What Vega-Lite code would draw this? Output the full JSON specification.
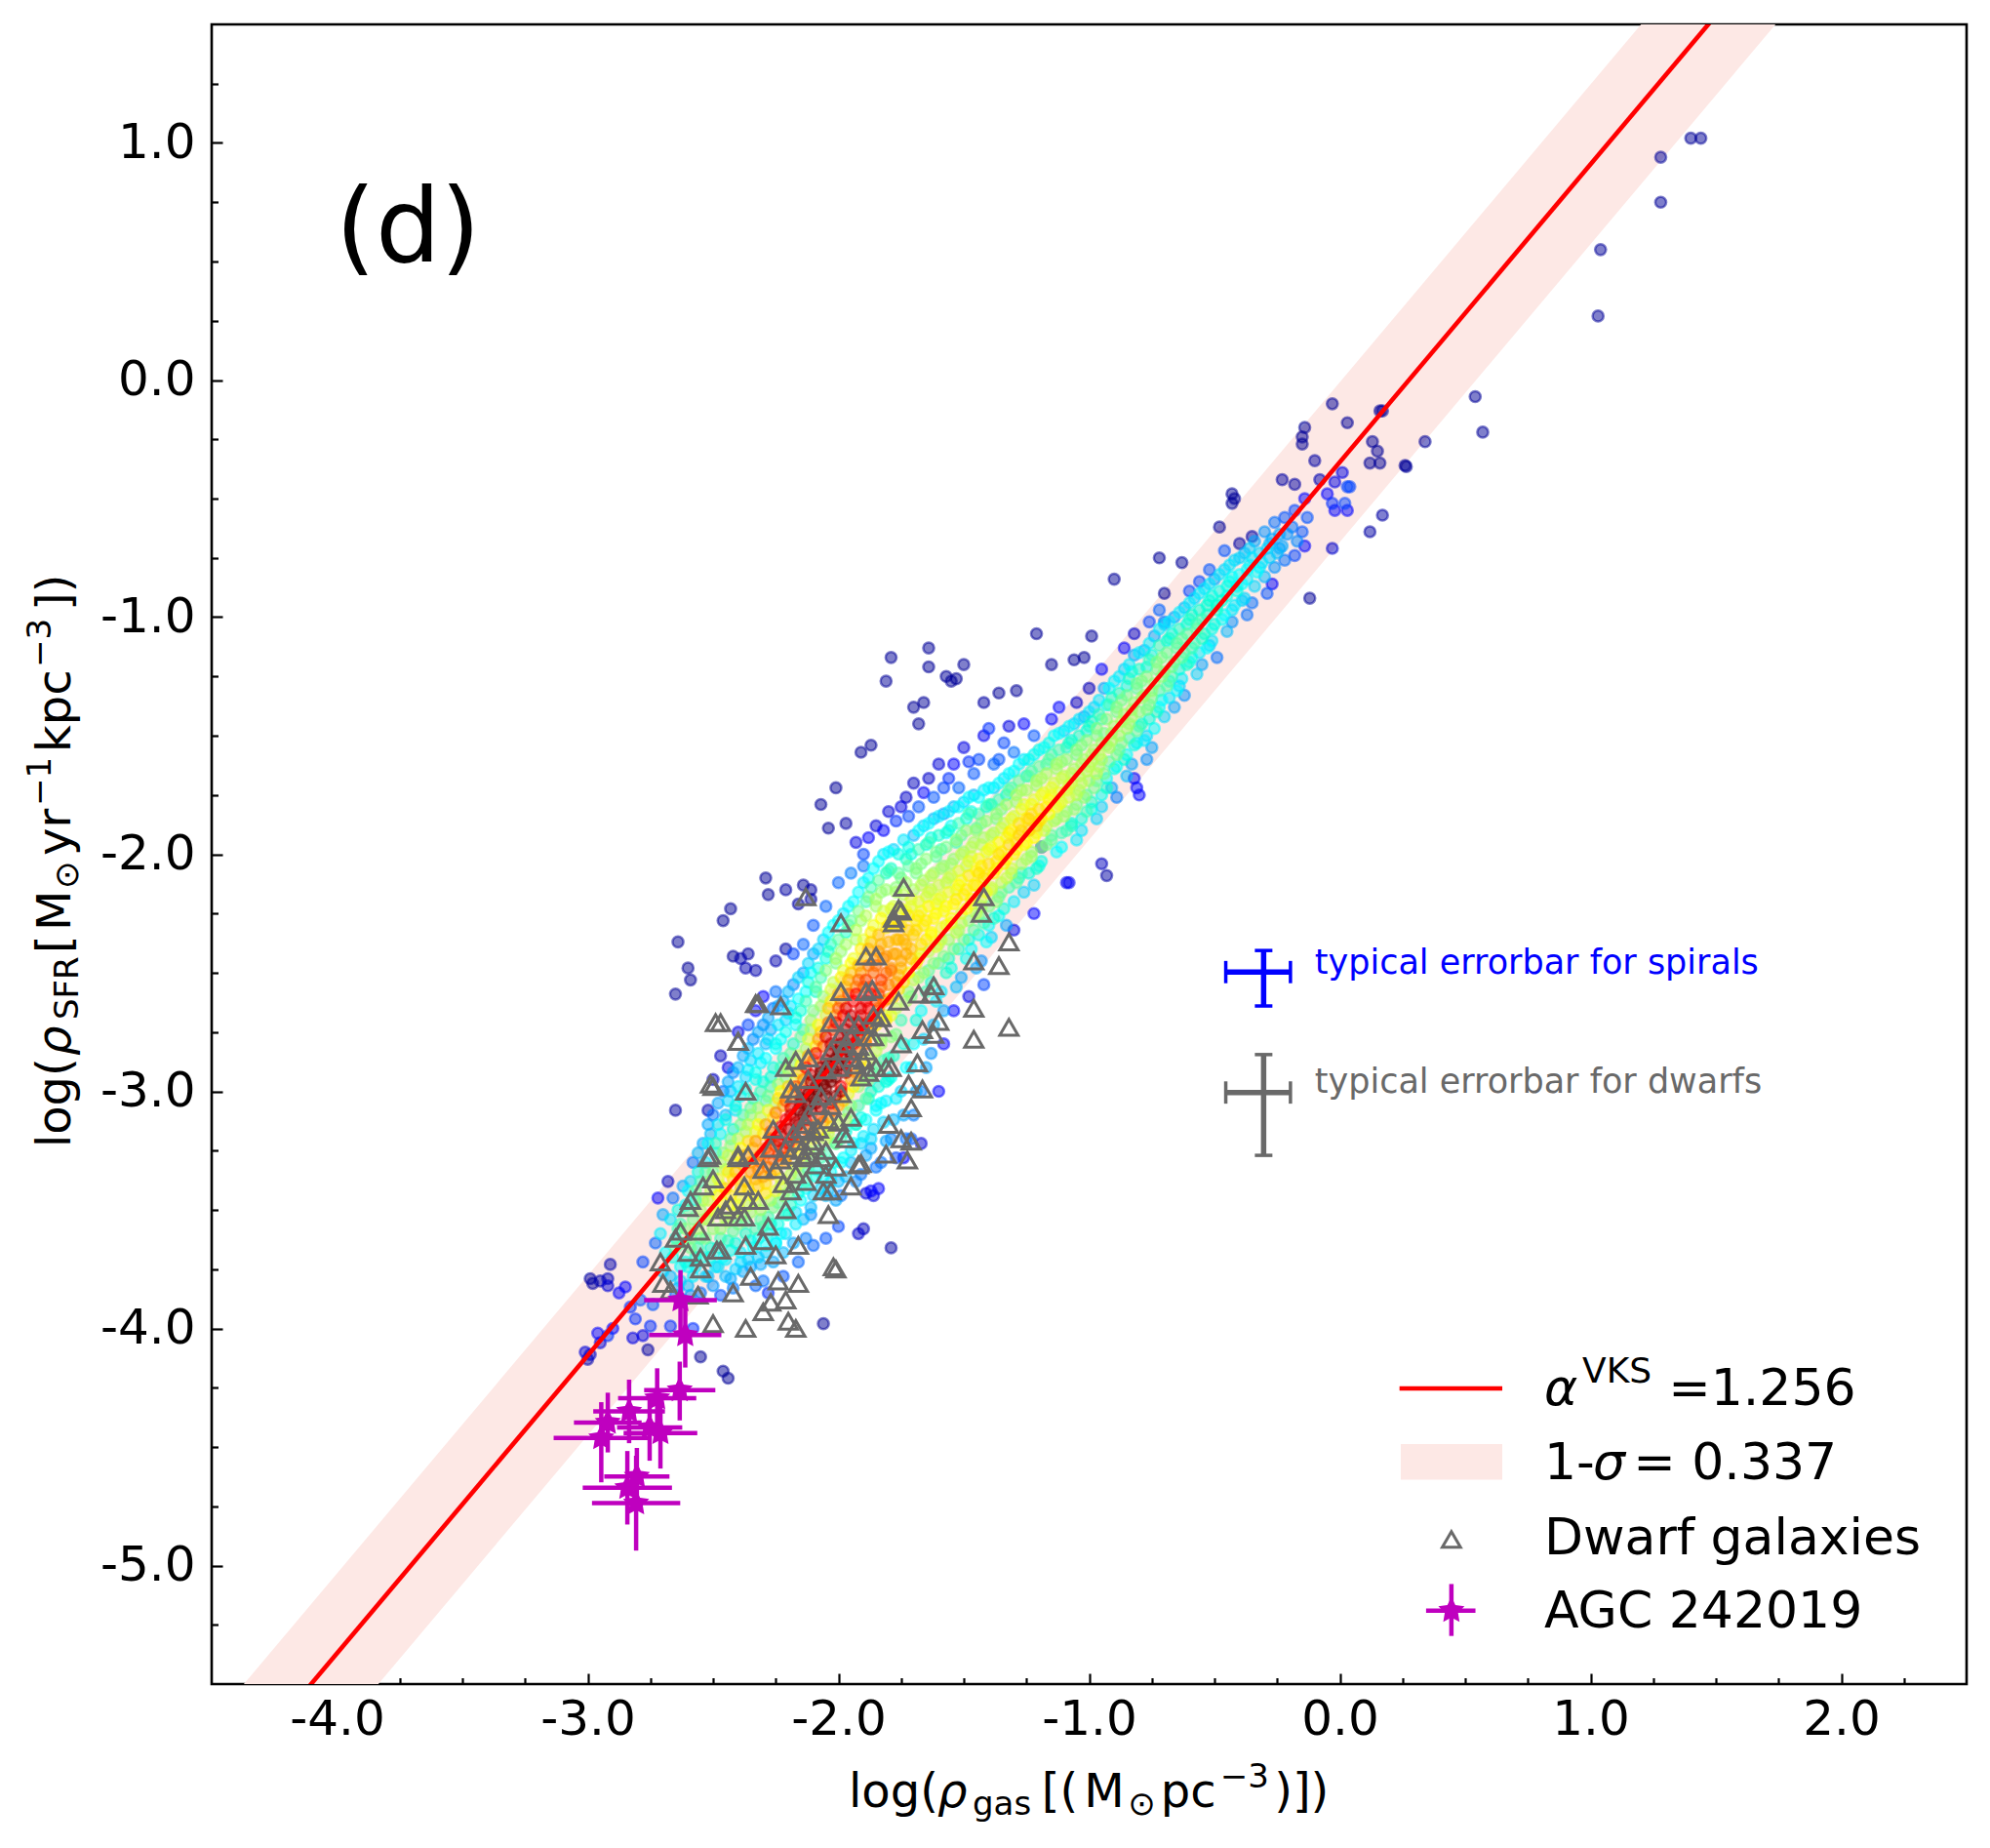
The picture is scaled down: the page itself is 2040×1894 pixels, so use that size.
{"$schema":"https://vega.github.io/schema/vega-lite/v6.json","width":1799,"height":1701,"autosize":{"type":"none"},"padding":{"left":217,"top":25,"right":24,"bottom":168},"background":"white","config":{"view":{"stroke":"#000000","strokeWidth":2.6},"font":"DejaVu Sans","text":{"font":"DejaVu Sans"}},
"datasets":{
"fit":[{"x":-4.5,"y":-5.998,"lo":-6.335,"hi":-5.661},{"x":2.5,"y":2.794,"lo":2.457,"hi":3.131}],
"spirals":[
{"x":-2.7,"y":-3.52,"d":0.2},{"x":-2.71,"y":-3.6,"d":0.28},{"x":-2.69,"y":-3.68,"d":0.3},{"x":-2.7,"y":-3.76,"d":0.25},
{"x":-2.66,"y":-3.45,"d":0.15},{"x":-2.67,"y":-3.54,"d":0.27},{"x":-2.65,"y":-3.62,"d":0.35},{"x":-2.66,"y":-3.7,"d":0.33},{"x":-2.67,"y":-3.78,"d":0.22},{"x":-2.65,"y":-3.86,"d":0.15},
{"x":-2.62,"y":-3.4,"d":0.2},{"x":-2.61,"y":-3.48,"d":0.3},{"x":-2.63,"y":-3.56,"d":0.38},{"x":-2.62,"y":-3.64,"d":0.4},{"x":-2.61,"y":-3.72,"d":0.33},{"x":-2.63,"y":-3.8,"d":0.25},{"x":-2.62,"y":-3.88,"d":0.15},
{"x":-2.58,"y":-3.3,"d":0.15},{"x":-2.59,"y":-3.38,"d":0.25},{"x":-2.57,"y":-3.46,"d":0.35},{"x":-2.58,"y":-3.54,"d":0.42},{"x":-2.59,"y":-3.62,"d":0.42},{"x":-2.57,"y":-3.7,"d":0.35},{"x":-2.58,"y":-3.78,"d":0.28},{"x":-2.59,"y":-3.86,"d":0.18},
{"x":-2.54,"y":-3.22,"d":0.2},{"x":-2.53,"y":-3.3,"d":0.28},{"x":-2.55,"y":-3.38,"d":0.38},{"x":-2.54,"y":-3.46,"d":0.45},{"x":-2.53,"y":-3.54,"d":0.47},{"x":-2.55,"y":-3.62,"d":0.4},{"x":-2.54,"y":-3.7,"d":0.33},{"x":-2.53,"y":-3.78,"d":0.25},{"x":-2.55,"y":-3.85,"d":0.15},
{"x":-2.5,"y":-3.1,"d":0.15},{"x":-2.51,"y":-3.18,"d":0.22},{"x":-2.49,"y":-3.26,"d":0.33},{"x":-2.5,"y":-3.34,"d":0.42},{"x":-2.51,"y":-3.42,"d":0.5},{"x":-2.49,"y":-3.5,"d":0.52},{"x":-2.5,"y":-3.58,"d":0.45},{"x":-2.51,"y":-3.66,"d":0.35},{"x":-2.49,"y":-3.74,"d":0.27},{"x":-2.5,"y":-3.82,"d":0.18},
{"x":-2.46,"y":-3.0,"d":0.15},{"x":-2.45,"y":-3.1,"d":0.22},{"x":-2.47,"y":-3.18,"d":0.3},{"x":-2.46,"y":-3.26,"d":0.42},{"x":-2.45,"y":-3.33,"d":0.5},{"x":-2.47,"y":-3.4,"d":0.55},{"x":-2.46,"y":-3.47,"d":0.57},{"x":-2.45,"y":-3.54,"d":0.5},{"x":-2.47,"y":-3.62,"d":0.38},{"x":-2.46,"y":-3.7,"d":0.3},{"x":-2.45,"y":-3.78,"d":0.22},{"x":-2.47,"y":-3.86,"d":0.13},
{"x":-2.42,"y":-2.92,"d":0.17},{"x":-2.43,"y":-3.0,"d":0.22},{"x":-2.41,"y":-3.08,"d":0.28},{"x":-2.42,"y":-3.16,"d":0.35},{"x":-2.43,"y":-3.23,"d":0.45},{"x":-2.41,"y":-3.3,"d":0.55},{"x":-2.42,"y":-3.37,"d":0.62},{"x":-2.43,"y":-3.44,"d":0.6},{"x":-2.41,"y":-3.51,"d":0.52},{"x":-2.42,"y":-3.59,"d":0.4},{"x":-2.43,"y":-3.67,"d":0.32},{"x":-2.41,"y":-3.75,"d":0.24},{"x":-2.42,"y":-3.83,"d":0.16},
{"x":-2.38,"y":-2.85,"d":0.2},{"x":-2.37,"y":-2.94,"d":0.25},{"x":-2.39,"y":-3.02,"d":0.3},{"x":-2.38,"y":-3.1,"d":0.38},{"x":-2.37,"y":-3.17,"d":0.47},{"x":-2.39,"y":-3.24,"d":0.58},{"x":-2.38,"y":-3.31,"d":0.66},{"x":-2.37,"y":-3.38,"d":0.66},{"x":-2.39,"y":-3.45,"d":0.56},{"x":-2.38,"y":-3.52,"d":0.45},{"x":-2.37,"y":-3.6,"d":0.36},{"x":-2.39,"y":-3.68,"d":0.28},{"x":-2.38,"y":-3.76,"d":0.2},
{"x":-2.34,"y":-2.78,"d":0.17},{"x":-2.35,"y":-2.87,"d":0.25},{"x":-2.33,"y":-2.95,"d":0.32},{"x":-2.34,"y":-3.03,"d":0.36},{"x":-2.35,"y":-3.1,"d":0.45},{"x":-2.33,"y":-3.17,"d":0.55},{"x":-2.34,"y":-3.24,"d":0.68},{"x":-2.35,"y":-3.3,"d":0.72},{"x":-2.33,"y":-3.37,"d":0.68},{"x":-2.34,"y":-3.44,"d":0.58},{"x":-2.35,"y":-3.51,"d":0.46},{"x":-2.33,"y":-3.58,"d":0.38},{"x":-2.34,"y":-3.66,"d":0.3},{"x":-2.35,"y":-3.74,"d":0.2},{"x":-2.33,"y":-3.82,"d":0.14},
{"x":-2.3,"y":-2.72,"d":0.17},{"x":-2.29,"y":-2.8,"d":0.22},{"x":-2.31,"y":-2.88,"d":0.28},{"x":-2.3,"y":-2.96,"d":0.33},{"x":-2.29,"y":-3.04,"d":0.38},{"x":-2.31,"y":-3.11,"d":0.5},{"x":-2.3,"y":-3.18,"d":0.62},{"x":-2.29,"y":-3.24,"d":0.75},{"x":-2.31,"y":-3.3,"d":0.78},{"x":-2.3,"y":-3.36,"d":0.7},{"x":-2.29,"y":-3.43,"d":0.6},{"x":-2.31,"y":-3.5,"d":0.47},{"x":-2.3,"y":-3.57,"d":0.38},{"x":-2.29,"y":-3.65,"d":0.3},{"x":-2.31,"y":-3.73,"d":0.2},{"x":-2.3,"y":-3.8,"d":0.15},
{"x":-2.26,"y":-2.65,"d":0.15},{"x":-2.27,"y":-2.74,"d":0.2},{"x":-2.25,"y":-2.82,"d":0.3},{"x":-2.26,"y":-2.9,"d":0.33},{"x":-2.27,"y":-2.98,"d":0.38},{"x":-2.25,"y":-3.05,"d":0.48},{"x":-2.26,"y":-3.11,"d":0.62},{"x":-2.27,"y":-3.17,"d":0.78},{"x":-2.25,"y":-3.23,"d":0.82},{"x":-2.26,"y":-3.29,"d":0.78},{"x":-2.27,"y":-3.35,"d":0.68},{"x":-2.25,"y":-3.42,"d":0.55},{"x":-2.26,"y":-3.49,"d":0.42},{"x":-2.27,"y":-3.56,"d":0.35},{"x":-2.25,"y":-3.64,"d":0.3},{"x":-2.26,"y":-3.72,"d":0.2},
{"x":-2.22,"y":-2.62,"d":0.2},{"x":-2.21,"y":-2.7,"d":0.25},{"x":-2.23,"y":-2.78,"d":0.3},{"x":-2.22,"y":-2.86,"d":0.37},{"x":-2.21,"y":-2.94,"d":0.42},{"x":-2.23,"y":-3.0,"d":0.58},{"x":-2.22,"y":-3.06,"d":0.7},{"x":-2.21,"y":-3.12,"d":0.85},{"x":-2.23,"y":-3.18,"d":0.88},{"x":-2.22,"y":-3.24,"d":0.84},{"x":-2.21,"y":-3.3,"d":0.72},{"x":-2.23,"y":-3.37,"d":0.55},{"x":-2.22,"y":-3.44,"d":0.45},{"x":-2.21,"y":-3.52,"d":0.36},{"x":-2.23,"y":-3.6,"d":0.3},{"x":-2.22,"y":-3.68,"d":0.22},
{"x":-2.18,"y":-2.55,"d":0.17},{"x":-2.19,"y":-2.64,"d":0.27},{"x":-2.17,"y":-2.72,"d":0.3},{"x":-2.18,"y":-2.8,"d":0.36},{"x":-2.19,"y":-2.88,"d":0.44},{"x":-2.17,"y":-2.95,"d":0.55},{"x":-2.18,"y":-3.01,"d":0.72},{"x":-2.19,"y":-3.07,"d":0.88},{"x":-2.17,"y":-3.13,"d":0.92},{"x":-2.18,"y":-3.19,"d":0.86},{"x":-2.19,"y":-3.25,"d":0.7},{"x":-2.17,"y":-3.32,"d":0.5},{"x":-2.18,"y":-3.4,"d":0.42},{"x":-2.19,"y":-3.48,"d":0.36},{"x":-2.17,"y":-3.56,"d":0.28},{"x":-2.18,"y":-3.64,"d":0.2},
{"x":-2.14,"y":-2.5,"d":0.2},{"x":-2.13,"y":-2.58,"d":0.3},{"x":-2.15,"y":-2.66,"d":0.35},{"x":-2.14,"y":-2.74,"d":0.38},{"x":-2.13,"y":-2.82,"d":0.46},{"x":-2.15,"y":-2.89,"d":0.58},{"x":-2.14,"y":-2.95,"d":0.75},{"x":-2.13,"y":-3.0,"d":0.9},{"x":-2.15,"y":-3.05,"d":0.98},{"x":-2.14,"y":-3.1,"d":0.95},{"x":-2.13,"y":-3.16,"d":0.8},{"x":-2.15,"y":-3.22,"d":0.62},{"x":-2.14,"y":-3.3,"d":0.48},{"x":-2.13,"y":-3.38,"d":0.38},{"x":-2.15,"y":-3.46,"d":0.3},{"x":-2.14,"y":-3.54,"d":0.22},{"x":-2.13,"y":-3.62,"d":0.16},
{"x":-2.1,"y":-2.42,"d":0.2},{"x":-2.11,"y":-2.5,"d":0.3},{"x":-2.09,"y":-2.58,"d":0.36},{"x":-2.1,"y":-2.66,"d":0.42},{"x":-2.11,"y":-2.74,"d":0.48},{"x":-2.09,"y":-2.81,"d":0.6},{"x":-2.1,"y":-2.87,"d":0.78},{"x":-2.11,"y":-2.93,"d":0.9},{"x":-2.09,"y":-2.98,"d":1},{"x":-2.1,"y":-3.03,"d":1},{"x":-2.11,"y":-3.08,"d":0.95},{"x":-2.09,"y":-3.14,"d":0.75},{"x":-2.1,"y":-3.2,"d":0.55},{"x":-2.11,"y":-3.28,"d":0.42},{"x":-2.09,"y":-3.36,"d":0.33},{"x":-2.1,"y":-3.44,"d":0.25},{"x":-2.11,"y":-3.52,"d":0.17},
{"x":-2.06,"y":-2.36,"d":0.25},{"x":-2.05,"y":-2.44,"d":0.33},{"x":-2.07,"y":-2.52,"d":0.38},{"x":-2.06,"y":-2.6,"d":0.45},{"x":-2.05,"y":-2.68,"d":0.52},{"x":-2.07,"y":-2.75,"d":0.65},{"x":-2.06,"y":-2.81,"d":0.8},{"x":-2.05,"y":-2.87,"d":0.92},{"x":-2.07,"y":-2.92,"d":1},{"x":-2.06,"y":-2.97,"d":1},{"x":-2.05,"y":-3.02,"d":1},{"x":-2.07,"y":-3.07,"d":0.9},{"x":-2.06,"y":-3.13,"d":0.7},{"x":-2.05,"y":-3.2,"d":0.5},{"x":-2.07,"y":-3.28,"d":0.38},{"x":-2.06,"y":-3.36,"d":0.3},{"x":-2.05,"y":-3.44,"d":0.22},
{"x":-2.02,"y":-2.3,"d":0.3},{"x":-2.03,"y":-2.38,"d":0.36},{"x":-2.01,"y":-2.46,"d":0.42},{"x":-2.02,"y":-2.54,"d":0.5},{"x":-2.03,"y":-2.62,"d":0.6},{"x":-2.01,"y":-2.68,"d":0.72},{"x":-2.02,"y":-2.74,"d":0.82},{"x":-2.03,"y":-2.8,"d":0.92},{"x":-2.01,"y":-2.86,"d":1},{"x":-2.02,"y":-2.91,"d":1},{"x":-2.03,"y":-2.96,"d":1},{"x":-2.01,"y":-3.02,"d":0.98},{"x":-2.02,"y":-3.08,"d":0.8},{"x":-2.03,"y":-3.15,"d":0.55},{"x":-2.01,"y":-3.22,"d":0.42},{"x":-2.02,"y":-3.3,"d":0.33},{"x":-2.03,"y":-3.38,"d":0.26},{"x":-2.01,"y":-3.46,"d":0.2},
{"x":-1.98,"y":-2.25,"d":0.27},{"x":-1.97,"y":-2.33,"d":0.36},{"x":-1.99,"y":-2.41,"d":0.45},{"x":-1.98,"y":-2.49,"d":0.55},{"x":-1.97,"y":-2.56,"d":0.65},{"x":-1.99,"y":-2.62,"d":0.75},{"x":-1.98,"y":-2.68,"d":0.85},{"x":-1.97,"y":-2.74,"d":0.92},{"x":-1.99,"y":-2.8,"d":0.95},{"x":-1.98,"y":-2.86,"d":0.98},{"x":-1.97,"y":-2.92,"d":0.95},{"x":-1.99,"y":-2.98,"d":0.85},{"x":-1.98,"y":-3.04,"d":0.65},{"x":-1.97,"y":-3.12,"d":0.48},{"x":-1.99,"y":-3.2,"d":0.38},{"x":-1.98,"y":-3.28,"d":0.3},{"x":-1.97,"y":-3.36,"d":0.22},{"x":-1.99,"y":-3.44,"d":0.15},
{"x":-1.94,"y":-2.2,"d":0.3},{"x":-1.95,"y":-2.28,"d":0.4},{"x":-1.93,"y":-2.36,"d":0.48},{"x":-1.94,"y":-2.44,"d":0.56},{"x":-1.95,"y":-2.5,"d":0.65},{"x":-1.93,"y":-2.56,"d":0.75},{"x":-1.94,"y":-2.62,"d":0.85},{"x":-1.95,"y":-2.68,"d":0.9},{"x":-1.93,"y":-2.74,"d":0.92},{"x":-1.94,"y":-2.8,"d":0.9},{"x":-1.95,"y":-2.86,"d":0.86},{"x":-1.93,"y":-2.92,"d":0.75},{"x":-1.94,"y":-2.98,"d":0.6},{"x":-1.95,"y":-3.06,"d":0.45},{"x":-1.93,"y":-3.14,"d":0.36},{"x":-1.94,"y":-3.22,"d":0.3},{"x":-1.95,"y":-3.3,"d":0.22},{"x":-1.93,"y":-3.38,"d":0.17},
{"x":-1.9,"y":-2.12,"d":0.28},{"x":-1.89,"y":-2.2,"d":0.38},{"x":-1.91,"y":-2.28,"d":0.46},{"x":-1.9,"y":-2.36,"d":0.55},{"x":-1.89,"y":-2.43,"d":0.63},{"x":-1.91,"y":-2.5,"d":0.72},{"x":-1.9,"y":-2.56,"d":0.8},{"x":-1.89,"y":-2.62,"d":0.86},{"x":-1.91,"y":-2.68,"d":0.88},{"x":-1.9,"y":-2.74,"d":0.85},{"x":-1.89,"y":-2.8,"d":0.78},{"x":-1.91,"y":-2.87,"d":0.62},{"x":-1.9,"y":-2.95,"d":0.48},{"x":-1.89,"y":-3.03,"d":0.4},{"x":-1.91,"y":-3.11,"d":0.33},{"x":-1.9,"y":-3.19,"d":0.28},{"x":-1.89,"y":-3.27,"d":0.2},{"x":-1.91,"y":-3.35,"d":0.15},
{"x":-1.86,"y":-2.06,"d":0.3},{"x":-1.87,"y":-2.14,"d":0.38},{"x":-1.85,"y":-2.22,"d":0.47},{"x":-1.86,"y":-2.3,"d":0.56},{"x":-1.87,"y":-2.37,"d":0.64},{"x":-1.85,"y":-2.44,"d":0.72},{"x":-1.86,"y":-2.5,"d":0.78},{"x":-1.87,"y":-2.56,"d":0.82},{"x":-1.85,"y":-2.62,"d":0.82},{"x":-1.86,"y":-2.68,"d":0.78},{"x":-1.87,"y":-2.75,"d":0.65},{"x":-1.85,"y":-2.83,"d":0.5},{"x":-1.86,"y":-2.92,"d":0.4},{"x":-1.87,"y":-3.0,"d":0.36},{"x":-1.85,"y":-3.08,"d":0.3},{"x":-1.86,"y":-3.16,"d":0.26},{"x":-1.87,"y":-3.24,"d":0.2},{"x":-1.85,"y":-3.32,"d":0.15},
{"x":-1.82,"y":-2.0,"d":0.27},{"x":-1.81,"y":-2.08,"d":0.36},{"x":-1.83,"y":-2.16,"d":0.44},{"x":-1.82,"y":-2.24,"d":0.53},{"x":-1.81,"y":-2.31,"d":0.6},{"x":-1.83,"y":-2.38,"d":0.68},{"x":-1.82,"y":-2.44,"d":0.74},{"x":-1.81,"y":-2.5,"d":0.78},{"x":-1.83,"y":-2.56,"d":0.78},{"x":-1.82,"y":-2.62,"d":0.72},{"x":-1.81,"y":-2.7,"d":0.6},{"x":-1.83,"y":-2.78,"d":0.45},{"x":-1.82,"y":-2.87,"d":0.38},{"x":-1.81,"y":-2.96,"d":0.34},{"x":-1.83,"y":-3.05,"d":0.3},{"x":-1.82,"y":-3.13,"d":0.25},{"x":-1.81,"y":-3.21,"d":0.2},{"x":-1.83,"y":-3.3,"d":0.15},
{"x":-1.78,"y":-1.98,"d":0.25},{"x":-1.79,"y":-2.06,"d":0.36},{"x":-1.77,"y":-2.14,"d":0.44},{"x":-1.78,"y":-2.22,"d":0.53},{"x":-1.79,"y":-2.29,"d":0.6},{"x":-1.77,"y":-2.36,"d":0.66},{"x":-1.78,"y":-2.42,"d":0.7},{"x":-1.79,"y":-2.48,"d":0.72},{"x":-1.77,"y":-2.54,"d":0.72},{"x":-1.78,"y":-2.6,"d":0.65},{"x":-1.79,"y":-2.68,"d":0.55},{"x":-1.77,"y":-2.76,"d":0.42},{"x":-1.78,"y":-2.85,"d":0.36},{"x":-1.79,"y":-2.94,"d":0.32},{"x":-1.77,"y":-3.03,"d":0.28},{"x":-1.78,"y":-3.12,"d":0.22},{"x":-1.79,"y":-3.2,"d":0.16},{"x":-1.77,"y":-3.28,"d":0.12},
{"x":-1.74,"y":-1.94,"d":0.27},{"x":-1.73,"y":-2.02,"d":0.36},{"x":-1.75,"y":-2.1,"d":0.42},{"x":-1.74,"y":-2.17,"d":0.5},{"x":-1.73,"y":-2.24,"d":0.56},{"x":-1.75,"y":-2.3,"d":0.62},{"x":-1.74,"y":-2.36,"d":0.68},{"x":-1.73,"y":-2.42,"d":0.7},{"x":-1.75,"y":-2.48,"d":0.68},{"x":-1.74,"y":-2.54,"d":0.62},{"x":-1.73,"y":-2.62,"d":0.48},{"x":-1.75,"y":-2.7,"d":0.38},{"x":-1.74,"y":-2.8,"d":0.34},{"x":-1.73,"y":-2.9,"d":0.3},{"x":-1.75,"y":-3.0,"d":0.25},{"x":-1.74,"y":-3.1,"d":0.2},{"x":-1.73,"y":-3.2,"d":0.15},
{"x":-1.7,"y":-1.92,"d":0.22},{"x":-1.71,"y":-2.0,"d":0.33},{"x":-1.69,"y":-2.08,"d":0.42},{"x":-1.7,"y":-2.15,"d":0.48},{"x":-1.71,"y":-2.22,"d":0.55},{"x":-1.69,"y":-2.28,"d":0.6},{"x":-1.7,"y":-2.34,"d":0.64},{"x":-1.71,"y":-2.4,"d":0.66},{"x":-1.69,"y":-2.46,"d":0.62},{"x":-1.7,"y":-2.53,"d":0.5},{"x":-1.71,"y":-2.6,"d":0.42},{"x":-1.69,"y":-2.7,"d":0.34},{"x":-1.7,"y":-2.8,"d":0.3},{"x":-1.71,"y":-2.9,"d":0.26},{"x":-1.69,"y":-3.0,"d":0.2},{"x":-1.7,"y":-3.1,"d":0.16},{"x":-1.71,"y":-3.2,"d":0.13},
{"x":-1.66,"y":-1.88,"d":0.25},{"x":-1.65,"y":-1.96,"d":0.35},{"x":-1.67,"y":-2.04,"d":0.42},{"x":-1.66,"y":-2.11,"d":0.47},{"x":-1.65,"y":-2.18,"d":0.52},{"x":-1.67,"y":-2.24,"d":0.56},{"x":-1.66,"y":-2.3,"d":0.6},{"x":-1.65,"y":-2.36,"d":0.6},{"x":-1.67,"y":-2.42,"d":0.56},{"x":-1.66,"y":-2.5,"d":0.46},{"x":-1.65,"y":-2.58,"d":0.38},{"x":-1.67,"y":-2.66,"d":0.3},{"x":-1.66,"y":-2.78,"d":0.25},{"x":-1.65,"y":-2.9,"d":0.2},{"x":-1.67,"y":-3.0,"d":0.16},
{"x":-1.62,"y":-1.85,"d":0.22},{"x":-1.63,"y":-1.93,"d":0.33},{"x":-1.61,"y":-2.01,"d":0.4},{"x":-1.62,"y":-2.08,"d":0.46},{"x":-1.63,"y":-2.15,"d":0.5},{"x":-1.61,"y":-2.21,"d":0.55},{"x":-1.62,"y":-2.27,"d":0.58},{"x":-1.63,"y":-2.33,"d":0.58},{"x":-1.61,"y":-2.39,"d":0.54},{"x":-1.62,"y":-2.46,"d":0.45},{"x":-1.63,"y":-2.54,"d":0.36},{"x":-1.61,"y":-2.62,"d":0.28},{"x":-1.62,"y":-2.72,"d":0.22},{"x":-1.63,"y":-2.84,"d":0.18},
{"x":-1.58,"y":-1.83,"d":0.2},{"x":-1.57,"y":-1.91,"d":0.3},{"x":-1.59,"y":-1.98,"d":0.38},{"x":-1.58,"y":-2.05,"d":0.44},{"x":-1.57,"y":-2.12,"d":0.5},{"x":-1.59,"y":-2.18,"d":0.54},{"x":-1.58,"y":-2.24,"d":0.57},{"x":-1.57,"y":-2.3,"d":0.57},{"x":-1.59,"y":-2.36,"d":0.52},{"x":-1.58,"y":-2.43,"d":0.43},{"x":-1.57,"y":-2.5,"d":0.36},{"x":-1.59,"y":-2.58,"d":0.27},{"x":-1.58,"y":-2.66,"d":0.2},
{"x":-1.54,"y":-1.8,"d":0.22},{"x":-1.55,"y":-1.88,"d":0.3},{"x":-1.53,"y":-1.95,"d":0.38},{"x":-1.54,"y":-2.02,"d":0.45},{"x":-1.55,"y":-2.09,"d":0.5},{"x":-1.53,"y":-2.15,"d":0.55},{"x":-1.54,"y":-2.21,"d":0.58},{"x":-1.55,"y":-2.27,"d":0.58},{"x":-1.53,"y":-2.33,"d":0.5},{"x":-1.54,"y":-2.4,"d":0.42},{"x":-1.55,"y":-2.48,"d":0.33},{"x":-1.53,"y":-2.56,"d":0.22},
{"x":-1.5,"y":-1.78,"d":0.25},{"x":-1.49,"y":-1.85,"d":0.33},{"x":-1.51,"y":-1.92,"d":0.4},{"x":-1.5,"y":-1.99,"d":0.46},{"x":-1.49,"y":-2.05,"d":0.5},{"x":-1.51,"y":-2.11,"d":0.56},{"x":-1.5,"y":-2.17,"d":0.6},{"x":-1.49,"y":-2.23,"d":0.58},{"x":-1.51,"y":-2.29,"d":0.5},{"x":-1.5,"y":-2.36,"d":0.42},{"x":-1.49,"y":-2.44,"d":0.32},{"x":-1.51,"y":-2.52,"d":0.2},
{"x":-1.46,"y":-1.75,"d":0.22},{"x":-1.47,"y":-1.82,"d":0.33},{"x":-1.45,"y":-1.89,"d":0.4},{"x":-1.46,"y":-1.95,"d":0.47},{"x":-1.47,"y":-2.01,"d":0.52},{"x":-1.45,"y":-2.07,"d":0.58},{"x":-1.46,"y":-2.13,"d":0.6},{"x":-1.47,"y":-2.19,"d":0.57},{"x":-1.45,"y":-2.25,"d":0.5},{"x":-1.46,"y":-2.32,"d":0.4},{"x":-1.47,"y":-2.4,"d":0.3},{"x":-1.45,"y":-2.48,"d":0.2},
{"x":-1.42,"y":-1.73,"d":0.27},{"x":-1.41,"y":-1.8,"d":0.35},{"x":-1.43,"y":-1.87,"d":0.42},{"x":-1.42,"y":-1.93,"d":0.47},{"x":-1.41,"y":-1.99,"d":0.54},{"x":-1.43,"y":-2.05,"d":0.6},{"x":-1.42,"y":-2.1,"d":0.62},{"x":-1.41,"y":-2.16,"d":0.56},{"x":-1.43,"y":-2.22,"d":0.48},{"x":-1.42,"y":-2.29,"d":0.38},{"x":-1.41,"y":-2.37,"d":0.3},{"x":-1.43,"y":-2.45,"d":0.18},
{"x":-1.38,"y":-1.72,"d":0.25},{"x":-1.39,"y":-1.79,"d":0.35},{"x":-1.37,"y":-1.85,"d":0.42},{"x":-1.38,"y":-1.91,"d":0.48},{"x":-1.39,"y":-1.97,"d":0.55},{"x":-1.37,"y":-2.03,"d":0.6},{"x":-1.38,"y":-2.08,"d":0.6},{"x":-1.39,"y":-2.14,"d":0.52},{"x":-1.37,"y":-2.2,"d":0.45},{"x":-1.38,"y":-2.27,"d":0.36},{"x":-1.39,"y":-2.35,"d":0.25},
{"x":-1.34,"y":-1.68,"d":0.27},{"x":-1.33,"y":-1.75,"d":0.35},{"x":-1.35,"y":-1.81,"d":0.42},{"x":-1.34,"y":-1.87,"d":0.5},{"x":-1.33,"y":-1.93,"d":0.56},{"x":-1.35,"y":-1.99,"d":0.6},{"x":-1.34,"y":-2.04,"d":0.6},{"x":-1.33,"y":-2.1,"d":0.52},{"x":-1.35,"y":-2.16,"d":0.42},{"x":-1.34,"y":-2.23,"d":0.34},{"x":-1.33,"y":-2.3,"d":0.2},
{"x":-1.3,"y":-1.65,"d":0.3},{"x":-1.31,"y":-1.72,"d":0.38},{"x":-1.29,"y":-1.78,"d":0.45},{"x":-1.3,"y":-1.84,"d":0.52},{"x":-1.31,"y":-1.9,"d":0.58},{"x":-1.29,"y":-1.95,"d":0.62},{"x":-1.3,"y":-2.0,"d":0.6},{"x":-1.31,"y":-2.06,"d":0.52},{"x":-1.29,"y":-2.12,"d":0.4},{"x":-1.3,"y":-2.2,"d":0.28},
{"x":-1.26,"y":-1.6,"d":0.27},{"x":-1.25,"y":-1.67,"d":0.36},{"x":-1.27,"y":-1.73,"d":0.46},{"x":-1.26,"y":-1.79,"d":0.54},{"x":-1.25,"y":-1.85,"d":0.6},{"x":-1.27,"y":-1.9,"d":0.63},{"x":-1.26,"y":-1.96,"d":0.58},{"x":-1.25,"y":-2.02,"d":0.48},{"x":-1.27,"y":-2.08,"d":0.38},{"x":-1.26,"y":-2.16,"d":0.25},
{"x":-1.22,"y":-1.58,"d":0.3},{"x":-1.23,"y":-1.65,"d":0.38},{"x":-1.21,"y":-1.71,"d":0.46},{"x":-1.22,"y":-1.77,"d":0.54},{"x":-1.23,"y":-1.83,"d":0.62},{"x":-1.21,"y":-1.88,"d":0.64},{"x":-1.22,"y":-1.93,"d":0.58},{"x":-1.23,"y":-1.99,"d":0.46},{"x":-1.21,"y":-2.06,"d":0.36},{"x":-1.22,"y":-2.13,"d":0.25},
{"x":-1.18,"y":-1.55,"d":0.3},{"x":-1.17,"y":-1.62,"d":0.38},{"x":-1.19,"y":-1.68,"d":0.47},{"x":-1.18,"y":-1.74,"d":0.55},{"x":-1.17,"y":-1.8,"d":0.6},{"x":-1.19,"y":-1.85,"d":0.6},{"x":-1.18,"y":-1.9,"d":0.52},{"x":-1.17,"y":-1.96,"d":0.42},{"x":-1.19,"y":-2.03,"d":0.33},
{"x":-1.14,"y":-1.5,"d":0.3},{"x":-1.15,"y":-1.58,"d":0.38},{"x":-1.13,"y":-1.64,"d":0.46},{"x":-1.14,"y":-1.7,"d":0.52},{"x":-1.15,"y":-1.75,"d":0.56},{"x":-1.13,"y":-1.8,"d":0.56},{"x":-1.14,"y":-1.86,"d":0.48},{"x":-1.15,"y":-1.92,"d":0.4},{"x":-1.13,"y":-1.99,"d":0.3},
{"x":-1.1,"y":-1.48,"d":0.25},{"x":-1.09,"y":-1.55,"d":0.36},{"x":-1.11,"y":-1.61,"d":0.45},{"x":-1.1,"y":-1.67,"d":0.5},{"x":-1.09,"y":-1.73,"d":0.54},{"x":-1.11,"y":-1.78,"d":0.54},{"x":-1.1,"y":-1.84,"d":0.47},{"x":-1.09,"y":-1.9,"d":0.38},{"x":-1.11,"y":-1.97,"d":0.3},
{"x":-1.06,"y":-1.45,"d":0.25},{"x":-1.07,"y":-1.52,"d":0.33},{"x":-1.05,"y":-1.58,"d":0.42},{"x":-1.06,"y":-1.64,"d":0.47},{"x":-1.07,"y":-1.7,"d":0.52},{"x":-1.05,"y":-1.75,"d":0.5},{"x":-1.06,"y":-1.81,"d":0.45},{"x":-1.07,"y":-1.87,"d":0.35},{"x":-1.05,"y":-1.94,"d":0.28},
{"x":-1.02,"y":-1.42,"d":0.2},{"x":-1.01,"y":-1.48,"d":0.33},{"x":-1.03,"y":-1.54,"d":0.42},{"x":-1.02,"y":-1.6,"d":0.47},{"x":-1.01,"y":-1.65,"d":0.5},{"x":-1.03,"y":-1.7,"d":0.5},{"x":-1.02,"y":-1.76,"d":0.45},{"x":-1.01,"y":-1.82,"d":0.38},{"x":-1.03,"y":-1.9,"d":0.27},
{"x":-0.98,"y":-1.38,"d":0.25},{"x":-0.99,"y":-1.44,"d":0.35},{"x":-0.97,"y":-1.5,"d":0.42},{"x":-0.98,"y":-1.56,"d":0.47},{"x":-0.99,"y":-1.61,"d":0.5},{"x":-0.97,"y":-1.66,"d":0.5},{"x":-0.98,"y":-1.72,"d":0.42},{"x":-0.99,"y":-1.78,"d":0.36},{"x":-0.97,"y":-1.85,"d":0.25},
{"x":-0.94,"y":-1.3,"d":0.2},{"x":-0.93,"y":-1.37,"d":0.3},{"x":-0.95,"y":-1.43,"d":0.38},{"x":-0.94,"y":-1.49,"d":0.42},{"x":-0.93,"y":-1.54,"d":0.47},{"x":-0.95,"y":-1.6,"d":0.48},{"x":-0.94,"y":-1.66,"d":0.42},{"x":-0.93,"y":-1.72,"d":0.36},{"x":-0.95,"y":-1.8,"d":0.25},
{"x":-0.9,"y":-1.27,"d":0.28},{"x":-0.91,"y":-1.34,"d":0.36},{"x":-0.89,"y":-1.4,"d":0.42},{"x":-0.9,"y":-1.46,"d":0.47},{"x":-0.91,"y":-1.52,"d":0.48},{"x":-0.89,"y":-1.58,"d":0.42},{"x":-0.9,"y":-1.64,"d":0.33},{"x":-0.91,"y":-1.72,"d":0.2},{"x":-0.89,"y":-1.76,"d":0.16},
{"x":-0.86,"y":-1.22,"d":0.25},{"x":-0.85,"y":-1.29,"d":0.33},{"x":-0.87,"y":-1.35,"d":0.42},{"x":-0.86,"y":-1.41,"d":0.47},{"x":-0.85,"y":-1.47,"d":0.47},{"x":-0.87,"y":-1.53,"d":0.42},{"x":-0.86,"y":-1.6,"d":0.35},{"x":-0.85,"y":-1.67,"d":0.22},
{"x":-0.82,"y":-1.16,"d":0.2},{"x":-0.83,"y":-1.23,"d":0.32},{"x":-0.81,"y":-1.3,"d":0.4},{"x":-0.82,"y":-1.36,"d":0.45},{"x":-0.83,"y":-1.42,"d":0.47},{"x":-0.81,"y":-1.48,"d":0.4},{"x":-0.82,"y":-1.54,"d":0.33},{"x":-0.83,"y":-1.62,"d":0.2},
{"x":-0.78,"y":-1.14,"d":0.22},{"x":-0.77,"y":-1.21,"d":0.33},{"x":-0.79,"y":-1.27,"d":0.42},{"x":-0.78,"y":-1.33,"d":0.46},{"x":-0.77,"y":-1.39,"d":0.42},{"x":-0.79,"y":-1.45,"d":0.36},{"x":-0.78,"y":-1.52,"d":0.28},{"x":-0.77,"y":-1.6,"d":0.18},
{"x":-0.74,"y":-1.08,"d":0.2},{"x":-0.75,"y":-1.16,"d":0.33},{"x":-0.73,"y":-1.22,"d":0.42},{"x":-0.74,"y":-1.28,"d":0.45},{"x":-0.75,"y":-1.34,"d":0.42},{"x":-0.73,"y":-1.4,"d":0.36},{"x":-0.74,"y":-1.47,"d":0.3},{"x":-0.75,"y":-1.55,"d":0.2},
{"x":-0.7,"y":-1.03,"d":0.22},{"x":-0.69,"y":-1.1,"d":0.33},{"x":-0.71,"y":-1.17,"d":0.42},{"x":-0.7,"y":-1.23,"d":0.44},{"x":-0.69,"y":-1.29,"d":0.4},{"x":-0.71,"y":-1.35,"d":0.3},{"x":-0.7,"y":-1.42,"d":0.25},
{"x":-0.66,"y":-1.0,"d":0.2},{"x":-0.67,"y":-1.07,"d":0.33},{"x":-0.65,"y":-1.13,"d":0.4},{"x":-0.66,"y":-1.19,"d":0.42},{"x":-0.67,"y":-1.25,"d":0.38},{"x":-0.65,"y":-1.31,"d":0.3},{"x":-0.66,"y":-1.38,"d":0.2},
{"x":-0.62,"y":-0.96,"d":0.22},{"x":-0.61,"y":-1.03,"d":0.33},{"x":-0.63,"y":-1.09,"d":0.4},{"x":-0.62,"y":-1.15,"d":0.4},{"x":-0.61,"y":-1.2,"d":0.36},{"x":-0.63,"y":-1.26,"d":0.28},{"x":-0.62,"y":-1.33,"d":0.18},
{"x":-0.58,"y":-0.92,"d":0.25},{"x":-0.59,"y":-0.99,"d":0.35},{"x":-0.57,"y":-1.05,"d":0.4},{"x":-0.58,"y":-1.11,"d":0.38},{"x":-0.59,"y":-1.17,"d":0.33},{"x":-0.57,"y":-1.24,"d":0.25},
{"x":-0.54,"y":-0.88,"d":0.27},{"x":-0.53,"y":-0.95,"d":0.35},{"x":-0.55,"y":-1.01,"d":0.38},{"x":-0.54,"y":-1.07,"d":0.36},{"x":-0.53,"y":-1.13,"d":0.3},{"x":-0.55,"y":-1.2,"d":0.2},
{"x":-0.5,"y":-0.84,"d":0.2},{"x":-0.51,"y":-0.91,"d":0.33},{"x":-0.49,"y":-0.97,"d":0.36},{"x":-0.5,"y":-1.03,"d":0.34},{"x":-0.51,"y":-1.1,"d":0.27},{"x":-0.49,"y":-1.17,"d":0.15},
{"x":-0.46,"y":-0.8,"d":0.25},{"x":-0.45,"y":-0.87,"d":0.33},{"x":-0.47,"y":-0.93,"d":0.35},{"x":-0.46,"y":-0.99,"d":0.3},{"x":-0.45,"y":-1.06,"d":0.22},
{"x":-0.42,"y":-0.76,"d":0.25},{"x":-0.43,"y":-0.83,"d":0.3},{"x":-0.41,"y":-0.89,"d":0.33},{"x":-0.42,"y":-0.95,"d":0.28},{"x":-0.43,"y":-1.02,"d":0.18},
{"x":-0.38,"y":-0.73,"d":0.22},{"x":-0.37,"y":-0.8,"d":0.3},{"x":-0.39,"y":-0.86,"d":0.3},{"x":-0.38,"y":-0.92,"d":0.25},{"x":-0.37,"y":-0.99,"d":0.15},
{"x":-0.34,"y":-0.68,"d":0.2},{"x":-0.35,"y":-0.75,"d":0.27},{"x":-0.33,"y":-0.81,"d":0.3},{"x":-0.34,"y":-0.87,"d":0.25},{"x":-0.35,"y":-0.94,"d":0.15},
{"x":-0.3,"y":-0.64,"d":0.18},{"x":-0.29,"y":-0.71,"d":0.25},{"x":-0.31,"y":-0.77,"d":0.27},{"x":-0.3,"y":-0.83,"d":0.22},{"x":-0.29,"y":-0.9,"d":0.13},
{"x":-0.26,"y":-0.6,"d":0.15},{"x":-0.27,"y":-0.67,"d":0.2},{"x":-0.25,"y":-0.73,"d":0.22},{"x":-0.26,"y":-0.79,"d":0.18},{"x":-0.27,"y":-0.86,"d":0.1},
{"x":-0.22,"y":-0.58,"d":0.13},{"x":-0.21,"y":-0.65,"d":0.18},{"x":-0.23,"y":-0.7,"d":0.2},{"x":-0.22,"y":-0.76,"d":0.15},
{"x":-0.18,"y":-0.55,"d":0.12},{"x":-0.19,"y":-0.62,"d":0.15},{"x":-0.17,"y":-0.68,"d":0.17},{"x":-0.18,"y":-0.74,"d":0.12},
{"x":-0.14,"y":-0.5,"d":0.1},{"x":-0.13,"y":-0.58,"d":0.13},{"x":-0.15,"y":-0.64,"d":0.13},{"x":-0.14,"y":-0.7,"d":0.1},
{"x":-2.64,"y":-3.5,"d":0.33},{"x":-2.64,"y":-3.58,"d":0.38},{"x":-2.65,"y":-3.66,"d":0.4},{"x":-2.63,"y":-3.74,"d":0.3},{"x":-2.64,"y":-3.83,"d":0.2},
{"x":-2.6,"y":-3.42,"d":0.3},{"x":-2.6,"y":-3.5,"d":0.4},{"x":-2.61,"y":-3.58,"d":0.44},{"x":-2.59,"y":-3.66,"d":0.42},{"x":-2.6,"y":-3.74,"d":0.32},{"x":-2.6,"y":-3.82,"d":0.22},
{"x":-2.56,"y":-3.26,"d":0.22},{"x":-2.56,"y":-3.34,"d":0.33},{"x":-2.57,"y":-3.42,"d":0.42},{"x":-2.55,"y":-3.5,"d":0.48},{"x":-2.56,"y":-3.58,"d":0.47},{"x":-2.56,"y":-3.66,"d":0.37},{"x":-2.57,"y":-3.74,"d":0.28},
{"x":-2.52,"y":-3.14,"d":0.2},{"x":-2.52,"y":-3.22,"d":0.3},{"x":-2.53,"y":-3.34,"d":0.4},{"x":-2.51,"y":-3.38,"d":0.47},{"x":-2.52,"y":-3.46,"d":0.52},{"x":-2.52,"y":-3.54,"d":0.5},{"x":-2.53,"y":-3.62,"d":0.42},{"x":-2.51,"y":-3.7,"d":0.32},{"x":-2.52,"y":-3.78,"d":0.22},
{"x":-2.48,"y":-3.05,"d":0.2},{"x":-2.48,"y":-3.14,"d":0.27},{"x":-2.49,"y":-3.22,"d":0.37},{"x":-2.47,"y":-3.3,"d":0.47},{"x":-2.48,"y":-3.37,"d":0.55},{"x":-2.48,"y":-3.44,"d":0.58},{"x":-2.49,"y":-3.51,"d":0.55},{"x":-2.47,"y":-3.58,"d":0.45},{"x":-2.48,"y":-3.66,"d":0.34},{"x":-2.48,"y":-3.74,"d":0.26},
{"x":-2.44,"y":-2.96,"d":0.2},{"x":-2.44,"y":-3.04,"d":0.25},{"x":-2.45,"y":-3.12,"d":0.32},{"x":-2.43,"y":-3.2,"d":0.4},{"x":-2.44,"y":-3.27,"d":0.52},{"x":-2.44,"y":-3.34,"d":0.6},{"x":-2.45,"y":-3.41,"d":0.64},{"x":-2.43,"y":-3.48,"d":0.57},{"x":-2.44,"y":-3.55,"d":0.46},{"x":-2.44,"y":-3.63,"d":0.36},{"x":-2.45,"y":-3.71,"d":0.28},{"x":-2.43,"y":-3.79,"d":0.2},
{"x":-2.4,"y":-2.9,"d":0.22},{"x":-2.4,"y":-2.98,"d":0.27},{"x":-2.41,"y":-3.06,"d":0.33},{"x":-2.39,"y":-3.14,"d":0.42},{"x":-2.4,"y":-3.2,"d":0.5},{"x":-2.4,"y":-3.27,"d":0.6},{"x":-2.41,"y":-3.34,"d":0.67},{"x":-2.39,"y":-3.41,"d":0.64},{"x":-2.4,"y":-3.48,"d":0.55},{"x":-2.4,"y":-3.56,"d":0.42},{"x":-2.41,"y":-3.64,"d":0.33},{"x":-2.39,"y":-3.72,"d":0.25},
{"x":-2.36,"y":-2.82,"d":0.22},{"x":-2.36,"y":-2.91,"d":0.28},{"x":-2.37,"y":-2.99,"d":0.33},{"x":-2.35,"y":-3.07,"d":0.4},{"x":-2.36,"y":-3.14,"d":0.5},{"x":-2.36,"y":-3.21,"d":0.62},{"x":-2.37,"y":-3.27,"d":0.7},{"x":-2.35,"y":-3.34,"d":0.72},{"x":-2.36,"y":-3.41,"d":0.62},{"x":-2.36,"y":-3.48,"d":0.5},{"x":-2.37,"y":-3.55,"d":0.4},{"x":-2.35,"y":-3.63,"d":0.32},{"x":-2.36,"y":-3.71,"d":0.24},
{"x":-2.32,"y":-2.75,"d":0.2},{"x":-2.32,"y":-2.84,"d":0.27},{"x":-2.33,"y":-2.92,"d":0.32},{"x":-2.31,"y":-3.0,"d":0.37},{"x":-2.32,"y":-3.07,"d":0.46},{"x":-2.32,"y":-3.14,"d":0.58},{"x":-2.33,"y":-3.21,"d":0.72},{"x":-2.31,"y":-3.27,"d":0.78},{"x":-2.32,"y":-3.33,"d":0.74},{"x":-2.32,"y":-3.4,"d":0.64},{"x":-2.33,"y":-3.47,"d":0.5},{"x":-2.31,"y":-3.54,"d":0.4},{"x":-2.32,"y":-3.62,"d":0.32},{"x":-2.32,"y":-3.7,"d":0.24},
{"x":-2.28,"y":-2.69,"d":0.2},{"x":-2.28,"y":-2.78,"d":0.26},{"x":-2.29,"y":-2.86,"d":0.3},{"x":-2.27,"y":-2.94,"d":0.35},{"x":-2.28,"y":-3.02,"d":0.42},{"x":-2.28,"y":-3.08,"d":0.56},{"x":-2.29,"y":-3.14,"d":0.7},{"x":-2.27,"y":-3.2,"d":0.8},{"x":-2.28,"y":-3.26,"d":0.82},{"x":-2.28,"y":-3.32,"d":0.76},{"x":-2.29,"y":-3.39,"d":0.62},{"x":-2.27,"y":-3.46,"d":0.48},{"x":-2.28,"y":-3.53,"d":0.38},{"x":-2.28,"y":-3.6,"d":0.32},{"x":-2.29,"y":-3.68,"d":0.24},
{"x":-2.24,"y":-2.64,"d":0.2},{"x":-2.24,"y":-2.72,"d":0.27},{"x":-2.25,"y":-2.8,"d":0.32},{"x":-2.23,"y":-2.9,"d":0.38},{"x":-2.24,"y":-2.97,"d":0.46},{"x":-2.24,"y":-3.03,"d":0.62},{"x":-2.25,"y":-3.09,"d":0.76},{"x":-2.23,"y":-3.15,"d":0.88},{"x":-2.24,"y":-3.21,"d":0.9},{"x":-2.24,"y":-3.27,"d":0.82},{"x":-2.25,"y":-3.33,"d":0.66},{"x":-2.23,"y":-3.4,"d":0.5},{"x":-2.24,"y":-3.47,"d":0.4},{"x":-2.24,"y":-3.56,"d":0.33},{"x":-2.25,"y":-3.64,"d":0.26},
{"x":-2.2,"y":-2.58,"d":0.22},{"x":-2.2,"y":-2.67,"d":0.28},{"x":-2.21,"y":-2.75,"d":0.32},{"x":-2.19,"y":-2.84,"d":0.4},{"x":-2.2,"y":-2.91,"d":0.5},{"x":-2.2,"y":-2.98,"d":0.64},{"x":-2.21,"y":-3.04,"d":0.8},{"x":-2.19,"y":-3.1,"d":0.9},{"x":-2.2,"y":-3.16,"d":0.92},{"x":-2.2,"y":-3.22,"d":0.86},{"x":-2.21,"y":-3.28,"d":0.7},{"x":-2.19,"y":-3.35,"d":0.5},{"x":-2.2,"y":-3.43,"d":0.4},{"x":-2.2,"y":-3.52,"d":0.33},{"x":-2.21,"y":-3.6,"d":0.26},
{"x":-2.16,"y":-2.52,"d":0.25},{"x":-2.16,"y":-2.61,"d":0.3},{"x":-2.17,"y":-2.69,"d":0.33},{"x":-2.15,"y":-2.77,"d":0.4},{"x":-2.16,"y":-2.85,"d":0.5},{"x":-2.16,"y":-2.92,"d":0.65},{"x":-2.17,"y":-2.98,"d":0.82},{"x":-2.15,"y":-3.03,"d":0.94},{"x":-2.16,"y":-3.08,"d":1},{"x":-2.16,"y":-3.14,"d":0.94},{"x":-2.17,"y":-3.2,"d":0.78},{"x":-2.15,"y":-3.27,"d":0.58},{"x":-2.16,"y":-3.35,"d":0.42},{"x":-2.16,"y":-3.43,"d":0.34},{"x":-2.17,"y":-3.51,"d":0.26},
{"x":-2.12,"y":-2.46,"d":0.25},{"x":-2.12,"y":-2.54,"d":0.33},{"x":-2.13,"y":-2.62,"d":0.38},{"x":-2.11,"y":-2.7,"d":0.45},{"x":-2.12,"y":-2.78,"d":0.54},{"x":-2.12,"y":-2.85,"d":0.7},{"x":-2.13,"y":-2.9,"d":0.85},{"x":-2.11,"y":-2.96,"d":0.96},{"x":-2.12,"y":-3.01,"d":1},{"x":-2.12,"y":-3.06,"d":1},{"x":-2.13,"y":-3.12,"d":0.88},{"x":-2.11,"y":-3.18,"d":0.66},{"x":-2.12,"y":-3.25,"d":0.5},{"x":-2.12,"y":-3.33,"d":0.38},{"x":-2.13,"y":-3.41,"d":0.3},{"x":-2.11,"y":-3.49,"d":0.22},
{"x":-2.08,"y":-2.4,"d":0.25},{"x":-2.08,"y":-2.48,"d":0.33},{"x":-2.09,"y":-2.56,"d":0.4},{"x":-2.07,"y":-2.64,"d":0.47},{"x":-2.08,"y":-2.72,"d":0.58},{"x":-2.08,"y":-2.78,"d":0.72},{"x":-2.09,"y":-2.84,"d":0.86},{"x":-2.07,"y":-2.9,"d":0.96},{"x":-2.08,"y":-2.95,"d":1},{"x":-2.08,"y":-3.0,"d":1},{"x":-2.09,"y":-3.05,"d":0.98},{"x":-2.07,"y":-3.11,"d":0.82},{"x":-2.08,"y":-3.17,"d":0.6},{"x":-2.08,"y":-3.25,"d":0.42},{"x":-2.09,"y":-3.33,"d":0.33},{"x":-2.07,"y":-3.41,"d":0.26},
{"x":-2.04,"y":-2.33,"d":0.3},{"x":-2.04,"y":-2.41,"d":0.36},{"x":-2.05,"y":-2.49,"d":0.44},{"x":-2.03,"y":-2.57,"d":0.54},{"x":-2.04,"y":-2.65,"d":0.66},{"x":-2.04,"y":-2.71,"d":0.78},{"x":-2.05,"y":-2.77,"d":0.88},{"x":-2.03,"y":-2.83,"d":0.96},{"x":-2.04,"y":-2.89,"d":1},{"x":-2.04,"y":-2.94,"d":1},{"x":-2.05,"y":-2.99,"d":1},{"x":-2.03,"y":-3.05,"d":0.9},{"x":-2.04,"y":-3.11,"d":0.68},{"x":-2.04,"y":-3.18,"d":0.5},{"x":-2.05,"y":-3.26,"d":0.38},{"x":-2.03,"y":-3.34,"d":0.3},{"x":-2.04,"y":-3.42,"d":0.22},
{"x":-2.0,"y":-2.28,"d":0.3},{"x":-2.0,"y":-2.36,"d":0.4},{"x":-2.01,"y":-2.44,"d":0.48},{"x":-1.99,"y":-2.52,"d":0.6},{"x":-2.0,"y":-2.59,"d":0.7},{"x":-2.0,"y":-2.65,"d":0.8},{"x":-2.01,"y":-2.71,"d":0.88},{"x":-1.99,"y":-2.77,"d":0.95},{"x":-2.0,"y":-2.83,"d":0.98},{"x":-2.0,"y":-2.89,"d":1},{"x":-2.01,"y":-2.94,"d":0.98},{"x":-1.99,"y":-3.0,"d":0.9},{"x":-2.0,"y":-3.06,"d":0.7},{"x":-2.0,"y":-3.14,"d":0.5},{"x":-2.01,"y":-3.22,"d":0.38},{"x":-1.99,"y":-3.3,"d":0.3},{"x":-2.0,"y":-3.38,"d":0.22},
{"x":-1.96,"y":-2.22,"d":0.3},{"x":-1.96,"y":-2.3,"d":0.4},{"x":-1.97,"y":-2.38,"d":0.48},{"x":-1.95,"y":-2.46,"d":0.58},{"x":-1.96,"y":-2.53,"d":0.7},{"x":-1.96,"y":-2.59,"d":0.8},{"x":-1.97,"y":-2.65,"d":0.88},{"x":-1.95,"y":-2.71,"d":0.92},{"x":-1.96,"y":-2.77,"d":0.94},{"x":-1.96,"y":-2.83,"d":0.92},{"x":-1.97,"y":-2.89,"d":0.86},{"x":-1.95,"y":-2.95,"d":0.72},{"x":-1.96,"y":-3.01,"d":0.55},{"x":-1.96,"y":-3.09,"d":0.42},{"x":-1.97,"y":-3.17,"d":0.34},{"x":-1.95,"y":-3.25,"d":0.28},
{"x":-1.92,"y":-2.16,"d":0.3},{"x":-1.92,"y":-2.24,"d":0.42},{"x":-1.93,"y":-2.32,"d":0.5},{"x":-1.91,"y":-2.4,"d":0.6},{"x":-1.92,"y":-2.47,"d":0.68},{"x":-1.92,"y":-2.53,"d":0.78},{"x":-1.93,"y":-2.59,"d":0.85},{"x":-1.91,"y":-2.65,"d":0.88},{"x":-1.92,"y":-2.71,"d":0.88},{"x":-1.92,"y":-2.77,"d":0.85},{"x":-1.93,"y":-2.83,"d":0.75},{"x":-1.91,"y":-2.9,"d":0.58},{"x":-1.92,"y":-2.98,"d":0.45},{"x":-1.92,"y":-3.06,"d":0.38},{"x":-1.93,"y":-3.14,"d":0.32},{"x":-1.91,"y":-3.22,"d":0.25},
{"x":-1.88,"y":-2.1,"d":0.3},{"x":-1.88,"y":-2.18,"d":0.42},{"x":-1.89,"y":-2.26,"d":0.5},{"x":-1.87,"y":-2.33,"d":0.6},{"x":-1.88,"y":-2.4,"d":0.68},{"x":-1.88,"y":-2.47,"d":0.76},{"x":-1.89,"y":-2.53,"d":0.82},{"x":-1.87,"y":-2.59,"d":0.85},{"x":-1.88,"y":-2.65,"d":0.85},{"x":-1.88,"y":-2.71,"d":0.8},{"x":-1.89,"y":-2.78,"d":0.66},{"x":-1.87,"y":-2.86,"d":0.5},{"x":-1.88,"y":-2.95,"d":0.42},{"x":-1.88,"y":-3.03,"d":0.36},{"x":-1.89,"y":-3.12,"d":0.3},{"x":-1.87,"y":-3.2,"d":0.25},
{"x":-1.84,"y":-2.03,"d":0.3},{"x":-1.84,"y":-2.11,"d":0.4},{"x":-1.85,"y":-2.19,"d":0.48},{"x":-1.83,"y":-2.27,"d":0.58},{"x":-1.84,"y":-2.34,"d":0.66},{"x":-1.84,"y":-2.41,"d":0.72},{"x":-1.85,"y":-2.47,"d":0.78},{"x":-1.83,"y":-2.53,"d":0.82},{"x":-1.84,"y":-2.59,"d":0.82},{"x":-1.84,"y":-2.65,"d":0.74},{"x":-1.85,"y":-2.72,"d":0.6},{"x":-1.83,"y":-2.8,"d":0.47},{"x":-1.84,"y":-2.9,"d":0.4},{"x":-1.84,"y":-2.98,"d":0.34},{"x":-1.85,"y":-3.06,"d":0.28},
{"x":-1.8,"y":-1.99,"d":0.3},{"x":-1.8,"y":-2.07,"d":0.38},{"x":-1.81,"y":-2.15,"d":0.46},{"x":-1.79,"y":-2.23,"d":0.55},{"x":-1.8,"y":-2.3,"d":0.62},{"x":-1.8,"y":-2.37,"d":0.68},{"x":-1.81,"y":-2.43,"d":0.72},{"x":-1.79,"y":-2.49,"d":0.76},{"x":-1.8,"y":-2.55,"d":0.75},{"x":-1.8,"y":-2.61,"d":0.68},{"x":-1.81,"y":-2.68,"d":0.55},{"x":-1.79,"y":-2.77,"d":0.44},{"x":-1.8,"y":-2.86,"d":0.37},{"x":-1.8,"y":-2.95,"d":0.33},{"x":-1.81,"y":-3.04,"d":0.28},
{"x":-1.76,"y":-2.0,"d":0.33},{"x":-1.76,"y":-2.08,"d":0.4},{"x":-1.77,"y":-2.16,"d":0.48},{"x":-1.75,"y":-2.23,"d":0.55},{"x":-1.76,"y":-2.3,"d":0.62},{"x":-1.76,"y":-2.36,"d":0.68},{"x":-1.77,"y":-2.42,"d":0.7},{"x":-1.75,"y":-2.45,"d":0.7},{"x":-1.76,"y":-2.51,"d":0.68},{"x":-1.76,"y":-2.57,"d":0.62},{"x":-1.77,"y":-2.65,"d":0.5},
{"x":-1.72,"y":-1.97,"d":0.33},{"x":-1.72,"y":-2.05,"d":0.4},{"x":-1.73,"y":-2.12,"d":0.47},{"x":-1.71,"y":-2.19,"d":0.54},{"x":-1.72,"y":-2.26,"d":0.6},{"x":-1.72,"y":-2.32,"d":0.64},{"x":-1.73,"y":-2.38,"d":0.68},{"x":-1.71,"y":-2.44,"d":0.66},{"x":-1.72,"y":-2.5,"d":0.58},{"x":-1.72,"y":-2.58,"d":0.44},
{"x":-1.68,"y":-1.9,"d":0.3},{"x":-1.68,"y":-1.98,"d":0.38},{"x":-1.69,"y":-2.06,"d":0.44},{"x":-1.67,"y":-2.13,"d":0.5},{"x":-1.68,"y":-2.2,"d":0.55},{"x":-1.68,"y":-2.26,"d":0.6},{"x":-1.69,"y":-2.32,"d":0.62},{"x":-1.67,"y":-2.38,"d":0.62},{"x":-1.68,"y":-2.44,"d":0.56},{"x":-1.68,"y":-2.52,"d":0.44},
{"x":-1.64,"y":-1.87,"d":0.3},{"x":-1.64,"y":-1.95,"d":0.38},{"x":-1.65,"y":-2.02,"d":0.44},{"x":-1.63,"y":-2.09,"d":0.5},{"x":-1.64,"y":-2.16,"d":0.53},{"x":-1.64,"y":-2.22,"d":0.58},{"x":-1.65,"y":-2.28,"d":0.6},{"x":-1.63,"y":-2.34,"d":0.58},{"x":-1.64,"y":-2.41,"d":0.5},{"x":-1.64,"y":-2.49,"d":0.4},
{"x":-1.6,"y":-1.84,"d":0.28},{"x":-1.6,"y":-1.92,"d":0.36},{"x":-1.61,"y":-1.99,"d":0.42},{"x":-1.59,"y":-2.06,"d":0.47},{"x":-1.6,"y":-2.13,"d":0.52},{"x":-1.6,"y":-2.19,"d":0.56},{"x":-1.61,"y":-2.25,"d":0.58},{"x":-1.59,"y":-2.31,"d":0.56},{"x":-1.6,"y":-2.38,"d":0.48},{"x":-1.6,"y":-2.46,"d":0.38},
{"x":-1.56,"y":-1.82,"d":0.28},{"x":-1.56,"y":-1.9,"d":0.36},{"x":-1.57,"y":-1.97,"d":0.42},{"x":-1.55,"y":-2.04,"d":0.47},{"x":-1.56,"y":-2.1,"d":0.52},{"x":-1.56,"y":-2.16,"d":0.56},{"x":-1.57,"y":-2.22,"d":0.58},{"x":-1.55,"y":-2.29,"d":0.55},{"x":-1.56,"y":-2.36,"d":0.46},{"x":-1.56,"y":-2.44,"d":0.36},
{"x":-1.52,"y":-1.8,"d":0.3},{"x":-1.52,"y":-1.87,"d":0.38},{"x":-1.53,"y":-1.94,"d":0.44},{"x":-1.51,"y":-2.0,"d":0.5},{"x":-1.52,"y":-2.07,"d":0.54},{"x":-1.52,"y":-2.13,"d":0.58},{"x":-1.53,"y":-2.19,"d":0.6},{"x":-1.51,"y":-2.25,"d":0.54},{"x":-1.52,"y":-2.32,"d":0.46},{"x":-1.52,"y":-2.4,"d":0.36},
{"x":-1.48,"y":-1.76,"d":0.3},{"x":-1.48,"y":-1.83,"d":0.38},{"x":-1.49,"y":-1.9,"d":0.44},{"x":-1.47,"y":-1.97,"d":0.5},{"x":-1.48,"y":-2.03,"d":0.55},{"x":-1.48,"y":-2.09,"d":0.6},{"x":-1.49,"y":-2.15,"d":0.6},{"x":-1.47,"y":-2.21,"d":0.54},{"x":-1.48,"y":-2.28,"d":0.44},{"x":-1.48,"y":-2.36,"d":0.34},
{"x":-1.44,"y":-1.76,"d":0.3},{"x":-1.44,"y":-1.83,"d":0.38},{"x":-1.45,"y":-1.9,"d":0.45},{"x":-1.43,"y":-1.96,"d":0.5},{"x":-1.44,"y":-2.02,"d":0.57},{"x":-1.44,"y":-2.08,"d":0.62},{"x":-1.45,"y":-2.13,"d":0.6},{"x":-1.43,"y":-2.19,"d":0.52},{"x":-1.44,"y":-2.26,"d":0.42},{"x":-1.44,"y":-2.34,"d":0.32},
{"x":-1.4,"y":-1.72,"d":0.3},{"x":-1.4,"y":-1.79,"d":0.38},{"x":-1.41,"y":-1.86,"d":0.45},{"x":-1.39,"y":-1.92,"d":0.5},{"x":-1.4,"y":-1.98,"d":0.57},{"x":-1.4,"y":-2.04,"d":0.62},{"x":-1.41,"y":-2.09,"d":0.6},{"x":-1.39,"y":-2.15,"d":0.52},{"x":-1.4,"y":-2.22,"d":0.42},{"x":-1.4,"y":-2.3,"d":0.3},
{"x":-1.36,"y":-1.7,"d":0.3},{"x":-1.36,"y":-1.77,"d":0.38},{"x":-1.37,"y":-1.83,"d":0.45},{"x":-1.35,"y":-1.89,"d":0.52},{"x":-1.36,"y":-1.95,"d":0.58},{"x":-1.36,"y":-2.0,"d":0.62},{"x":-1.37,"y":-2.06,"d":0.58},{"x":-1.35,"y":-2.12,"d":0.5},{"x":-1.36,"y":-2.18,"d":0.4},{"x":-1.36,"y":-2.26,"d":0.3},
{"x":-1.32,"y":-1.66,"d":0.3},{"x":-1.32,"y":-1.73,"d":0.4},{"x":-1.33,"y":-1.79,"d":0.47},{"x":-1.31,"y":-1.85,"d":0.55},{"x":-1.32,"y":-1.91,"d":0.6},{"x":-1.32,"y":-1.96,"d":0.63},{"x":-1.33,"y":-2.02,"d":0.58},{"x":-1.31,"y":-2.08,"d":0.48},{"x":-1.32,"y":-2.14,"d":0.38},
{"x":-1.28,"y":-1.62,"d":0.3},{"x":-1.28,"y":-1.69,"d":0.4},{"x":-1.29,"y":-1.75,"d":0.48},{"x":-1.27,"y":-1.81,"d":0.56},{"x":-1.28,"y":-1.87,"d":0.62},{"x":-1.28,"y":-1.92,"d":0.64},{"x":-1.29,"y":-1.98,"d":0.58},{"x":-1.27,"y":-2.04,"d":0.48},{"x":-1.28,"y":-2.1,"d":0.36},
{"x":-1.24,"y":-1.6,"d":0.32},{"x":-1.24,"y":-1.67,"d":0.4},{"x":-1.25,"y":-1.73,"d":0.48},{"x":-1.23,"y":-1.79,"d":0.57},{"x":-1.24,"y":-1.85,"d":0.64},{"x":-1.24,"y":-1.9,"d":0.65},{"x":-1.25,"y":-1.95,"d":0.58},{"x":-1.23,"y":-2.01,"d":0.46},{"x":-1.24,"y":-2.08,"d":0.34},
{"x":-1.2,"y":-1.56,"d":0.32},{"x":-1.2,"y":-1.63,"d":0.4},{"x":-1.21,"y":-1.69,"d":0.48},{"x":-1.19,"y":-1.75,"d":0.56},{"x":-1.2,"y":-1.81,"d":0.62},{"x":-1.2,"y":-1.86,"d":0.62},{"x":-1.21,"y":-1.91,"d":0.55},{"x":-1.19,"y":-1.97,"d":0.44},{"x":-1.2,"y":-2.05,"d":0.32},
{"x":-1.16,"y":-1.53,"d":0.32},{"x":-1.16,"y":-1.6,"d":0.4},{"x":-1.17,"y":-1.66,"d":0.48},{"x":-1.15,"y":-1.72,"d":0.55},{"x":-1.16,"y":-1.77,"d":0.58},{"x":-1.16,"y":-1.83,"d":0.58},{"x":-1.17,"y":-1.88,"d":0.5},{"x":-1.15,"y":-1.94,"d":0.4},
{"x":-1.12,"y":-1.49,"d":0.3},{"x":-1.12,"y":-1.56,"d":0.38},{"x":-1.13,"y":-1.62,"d":0.47},{"x":-1.11,"y":-1.68,"d":0.52},{"x":-1.12,"y":-1.74,"d":0.55},{"x":-1.12,"y":-1.79,"d":0.55},{"x":-1.13,"y":-1.85,"d":0.47},{"x":-1.11,"y":-1.91,"d":0.38},
{"x":-1.08,"y":-1.46,"d":0.3},{"x":-1.08,"y":-1.53,"d":0.36},{"x":-1.09,"y":-1.6,"d":0.44},{"x":-1.07,"y":-1.66,"d":0.5},{"x":-1.08,"y":-1.71,"d":0.53},{"x":-1.08,"y":-1.76,"d":0.52},{"x":-1.09,"y":-1.82,"d":0.45},{"x":-1.07,"y":-1.88,"d":0.36},
{"x":-1.04,"y":-1.43,"d":0.27},{"x":-1.04,"y":-1.5,"d":0.36},{"x":-1.05,"y":-1.56,"d":0.44},{"x":-1.03,"y":-1.62,"d":0.48},{"x":-1.04,"y":-1.67,"d":0.5},{"x":-1.04,"y":-1.73,"d":0.48},{"x":-1.05,"y":-1.79,"d":0.42},{"x":-1.03,"y":-1.85,"d":0.34},
{"x":-1.0,"y":-1.4,"d":0.27},{"x":-1.0,"y":-1.46,"d":0.36},{"x":-1.01,"y":-1.52,"d":0.44},{"x":-0.99,"y":-1.58,"d":0.48},{"x":-1.0,"y":-1.63,"d":0.5},{"x":-1.0,"y":-1.69,"d":0.47},{"x":-1.01,"y":-1.75,"d":0.4},{"x":-0.99,"y":-1.81,"d":0.32},
{"x":-0.96,"y":-1.35,"d":0.27},{"x":-0.96,"y":-1.41,"d":0.37},{"x":-0.97,"y":-1.47,"d":0.43},{"x":-0.95,"y":-1.53,"d":0.47},{"x":-0.96,"y":-1.58,"d":0.5},{"x":-0.96,"y":-1.63,"d":0.46},{"x":-0.97,"y":-1.69,"d":0.4},{"x":-0.95,"y":-1.75,"d":0.32},
{"x":-0.92,"y":-1.3,"d":0.3},{"x":-0.92,"y":-1.37,"d":0.38},{"x":-0.93,"y":-1.43,"d":0.43},{"x":-0.91,"y":-1.49,"d":0.47},{"x":-0.92,"y":-1.55,"d":0.48},{"x":-0.92,"y":-1.61,"d":0.4},{"x":-0.93,"y":-1.68,"d":0.3},
{"x":-0.88,"y":-1.25,"d":0.28},{"x":-0.88,"y":-1.32,"d":0.36},{"x":-0.89,"y":-1.38,"d":0.43},{"x":-0.87,"y":-1.44,"d":0.48},{"x":-0.88,"y":-1.5,"d":0.47},{"x":-0.88,"y":-1.56,"d":0.4},{"x":-0.89,"y":-1.63,"d":0.3},
{"x":-0.84,"y":-1.2,"d":0.28},{"x":-0.84,"y":-1.26,"d":0.36},{"x":-0.85,"y":-1.33,"d":0.42},{"x":-0.83,"y":-1.39,"d":0.47},{"x":-0.84,"y":-1.45,"d":0.45},{"x":-0.84,"y":-1.51,"d":0.38},{"x":-0.85,"y":-1.58,"d":0.3},
{"x":-0.8,"y":-1.15,"d":0.28},{"x":-0.8,"y":-1.22,"d":0.36},{"x":-0.81,"y":-1.28,"d":0.42},{"x":-0.79,"y":-1.34,"d":0.46},{"x":-0.8,"y":-1.4,"d":0.43},{"x":-0.8,"y":-1.46,"d":0.37},{"x":-0.81,"y":-1.53,"d":0.28},
{"x":-0.76,"y":-1.11,"d":0.28},{"x":-0.76,"y":-1.18,"d":0.37},{"x":-0.77,"y":-1.25,"d":0.43},{"x":-0.75,"y":-1.31,"d":0.45},{"x":-0.76,"y":-1.37,"d":0.42},{"x":-0.76,"y":-1.43,"d":0.34},{"x":-0.77,"y":-1.5,"d":0.26},
{"x":-0.72,"y":-1.05,"d":0.28},{"x":-0.72,"y":-1.12,"d":0.37},{"x":-0.73,"y":-1.19,"d":0.43},{"x":-0.71,"y":-1.25,"d":0.44},{"x":-0.72,"y":-1.31,"d":0.38},{"x":-0.72,"y":-1.38,"d":0.3},
{"x":-0.68,"y":-1.02,"d":0.28},{"x":-0.68,"y":-1.09,"d":0.36},{"x":-0.69,"y":-1.15,"d":0.41},{"x":-0.67,"y":-1.21,"d":0.42},{"x":-0.68,"y":-1.27,"d":0.36},{"x":-0.68,"y":-1.34,"d":0.27},
{"x":-0.64,"y":-0.98,"d":0.28},{"x":-0.64,"y":-1.05,"d":0.36},{"x":-0.65,"y":-1.11,"d":0.4},{"x":-0.63,"y":-1.17,"d":0.4},{"x":-0.64,"y":-1.22,"d":0.34},{"x":-0.64,"y":-1.29,"d":0.25},
{"x":-0.6,"y":-0.94,"d":0.28},{"x":-0.6,"y":-1.01,"d":0.36},{"x":-0.61,"y":-1.07,"d":0.4},{"x":-0.59,"y":-1.13,"d":0.38},{"x":-0.6,"y":-1.19,"d":0.32},
{"x":-0.56,"y":-0.9,"d":0.28},{"x":-0.56,"y":-0.97,"d":0.35},{"x":-0.57,"y":-1.03,"d":0.38},{"x":-0.55,"y":-1.09,"d":0.36},{"x":-0.56,"y":-1.15,"d":0.28},
{"x":-0.52,"y":-0.86,"d":0.27},{"x":-0.52,"y":-0.93,"d":0.34},{"x":-0.53,"y":-0.99,"d":0.36},{"x":-0.51,"y":-1.05,"d":0.32},{"x":-0.52,"y":-1.12,"d":0.24},
{"x":-0.48,"y":-0.82,"d":0.27},{"x":-0.48,"y":-0.89,"d":0.33},{"x":-0.49,"y":-0.95,"d":0.35},{"x":-0.47,"y":-1.01,"d":0.3},
{"x":-0.44,"y":-0.78,"d":0.27},{"x":-0.44,"y":-0.85,"d":0.32},{"x":-0.45,"y":-0.91,"d":0.33},{"x":-0.43,"y":-0.97,"d":0.27},
{"x":-0.4,"y":-0.75,"d":0.25},{"x":-0.4,"y":-0.82,"d":0.3},{"x":-0.41,"y":-0.87,"d":0.3},{"x":-0.39,"y":-0.93,"d":0.24},
{"x":-0.36,"y":-0.71,"d":0.24},{"x":-0.36,"y":-0.78,"d":0.28},{"x":-0.37,"y":-0.84,"d":0.28},{"x":-0.32,"y":-0.73,"d":0.25},{"x":-0.32,"y":-0.79,"d":0.27},{"x":-0.28,"y":-0.69,"d":0.22},{"x":-0.28,"y":-0.75,"d":0.24},{"x":-0.24,"y":-0.65,"d":0.2},{"x":-0.24,"y":-0.71,"d":0.2},
{"x":-0.08,"y":-0.42,"d":0.04},{"x":-0.05,"y":-0.48,"d":0.1},{"x":-0.03,"y":-0.52,"d":0.11},{"x":-0.02,"y":-0.55,"d":0.1},{"x":-0.02,"y":-0.43,"d":0.08},{"x":0.02,"y":-0.52,"d":0.12},{"x":0.03,"y":-0.55,"d":0.1},{"x":0.04,"y":-0.45,"d":0.12},{"x":0.03,"y":-0.45,"d":0.12},{"x":0.01,"y":-0.39,"d":0.08},{"x":-0.03,"y":-0.71,"d":0.06},{"x":0.12,"y":-0.64,"d":0.03},{"x":0.17,"y":-0.57,"d":0.03},
{"x":1.4,"y":1.02,"d":0.02},{"x":1.44,"y":1.02,"d":0.02},{"x":1.28,"y":0.94,"d":0.02},{"x":1.28,"y":0.75,"d":0.02},{"x":1.04,"y":0.55,"d":0.02},{"x":1.03,"y":0.27,"d":0.02},{"x":0.54,"y":-0.07,"d":0.02},{"x":0.57,"y":-0.22,"d":0.02},{"x":0.34,"y":-0.26,"d":0.02},{"x":0.26,"y":-0.36,"d":0.02},{"x":0.265,"y":-0.365,"d":0.02},{"x":0.17,"y":-0.13,"d":0.02},{"x":0.16,"y":-0.13,"d":0.02},{"x":-0.03,"y":-0.1,"d":0.02},{"x":0.03,"y":-0.18,"d":0.02},{"x":-0.14,"y":-0.2,"d":0.02},{"x":-0.15,"y":-0.24,"d":0.02},{"x":-0.15,"y":-0.27,"d":0.02},{"x":0.13,"y":-0.26,"d":0.02},{"x":0.15,"y":-0.3,"d":0.02},{"x":0.12,"y":-0.35,"d":0.02},{"x":0.16,"y":-0.35,"d":0.02},{"x":-0.12,"y":-0.92,"d":0.02},{"x":-0.1,"y":-0.34,"d":0.03},{"x":-0.18,"y":-0.44,"d":0.03},{"x":-0.23,"y":-0.42,"d":0.03},{"x":-0.35,"y":-0.66,"d":0.03},{"x":-0.4,"y":-0.69,"d":0.03},{"x":-0.42,"y":-0.5,"d":0.02},{"x":-0.43,"y":-0.48,"d":0.02},{"x":-0.43,"y":-0.52,"d":0.02},{"x":-0.48,"y":-0.62,"d":0.02},{"x":-0.63,"y":-0.77,"d":0.02},{"x":-0.72,"y":-0.75,"d":0.02},{"x":-0.7,"y":-0.9,"d":0.02},{"x":-0.9,"y":-0.84,"d":0.02},{"x":-0.99,"y":-1.08,"d":0.02},{"x":-1.02,"y":-1.17,"d":0.02},{"x":-1.06,"y":-1.18,"d":0.02},{"x":-1.15,"y":-1.2,"d":0.02},{"x":-1.21,"y":-1.07,"d":0.02},{"x":-1.29,"y":-1.31,"d":0.02},{"x":-1.36,"y":-1.32,"d":0.02},{"x":-1.42,"y":-1.36,"d":0.03},{"x":-1.5,"y":-1.2,"d":0.02},{"x":-1.53,"y":-1.26,"d":0.02},{"x":-1.55,"y":-1.27,"d":0.02},{"x":-1.57,"y":-1.25,"d":0.02},{"x":-1.64,"y":-1.13,"d":0.02},{"x":-1.64,"y":-1.21,"d":0.02},{"x":-1.66,"y":-1.36,"d":0.02},{"x":-1.7,"y":-1.38,"d":0.02},{"x":-1.68,"y":-1.45,"d":0.02},{"x":-1.79,"y":-1.17,"d":0.02},{"x":-1.81,"y":-1.27,"d":0.02},{"x":-1.87,"y":-1.54,"d":0.02},{"x":-1.91,"y":-1.57,"d":0.02},{"x":-1.97,"y":-1.87,"d":0.03},{"x":-2.01,"y":-1.72,"d":0.02},{"x":-2.04,"y":-1.89,"d":0.02},{"x":-2.07,"y":-1.79,"d":0.02},{"x":-2.11,"y":-2.15,"d":0.03},{"x":-2.11,"y":-2.19,"d":0.03},{"x":-2.14,"y":-2.13,"d":0.02},{"x":-2.16,"y":-2.21,"d":0.03},{"x":-2.21,"y":-2.15,"d":0.03},{"x":-2.21,"y":-2.4,"d":0.03},{"x":-2.25,"y":-2.45,"d":0.04},{"x":-2.28,"y":-2.17,"d":0.02},{"x":-2.29,"y":-2.1,"d":0.02},{"x":-2.33,"y":-2.49,"d":0.04},{"x":-2.36,"y":-2.42,"d":0.03},{"x":-2.37,"y":-2.48,"d":0.04},{"x":-2.39,"y":-2.44,"d":0.04},{"x":-2.42,"y":-2.43,"d":0.02},{"x":-2.43,"y":-2.23,"d":0.02},{"x":-2.46,"y":-2.28,"d":0.02},{"x":-2.59,"y":-2.53,"d":0.02},{"x":-2.6,"y":-2.48,"d":0.02},{"x":-2.64,"y":-2.37,"d":0.02},{"x":-2.65,"y":-2.59,"d":0.02},
{"x":-1.93,"y":-1.95,"d":0.08},{"x":-1.9,"y":-2.0,"d":0.12},{"x":-1.88,"y":-1.93,"d":0.1},{"x":-1.85,"y":-1.88,"d":0.07},{"x":-1.82,"y":-1.9,"d":0.1},{"x":-1.8,"y":-1.82,"d":0.07},{"x":-1.77,"y":-1.86,"d":0.11},{"x":-1.75,"y":-1.8,"d":0.08},{"x":-1.73,"y":-1.76,"d":0.06},{"x":-1.72,"y":-1.84,"d":0.12},{"x":-1.7,"y":-1.7,"d":0.05},{"x":-1.68,"y":-1.8,"d":0.13},{"x":-1.66,"y":-1.74,"d":0.1},{"x":-1.64,"y":-1.68,"d":0.06},{"x":-1.62,"y":-1.76,"d":0.13},{"x":-1.6,"y":-1.62,"d":0.07},{"x":-1.58,"y":-1.72,"d":0.12},{"x":-1.56,"y":-1.68,"d":0.11},{"x":-1.54,"y":-1.62,"d":0.1},{"x":-1.52,"y":-1.72,"d":0.14},{"x":-1.5,"y":-1.55,"d":0.08},{"x":-1.48,"y":-1.61,"d":0.11},{"x":-1.46,"y":-1.66,"d":0.13},{"x":-1.44,"y":-1.6,"d":0.12},{"x":-1.42,"y":-1.5,"d":0.09},{"x":-1.4,"y":-1.47,"d":0.11},{"x":-1.38,"y":-1.62,"d":0.14},{"x":-1.36,"y":-1.6,"d":0.13},{"x":-1.34,"y":-1.53,"d":0.12},{"x":-1.32,"y":-1.46,"d":0.08},{"x":-1.3,"y":-1.57,"d":0.15},{"x":-1.26,"y":-1.45,"d":0.1},{"x":-1.22,"y":-1.5,"d":0.13},{"x":-1.15,"y":-1.43,"d":0.1},{"x":-1.12,"y":-1.38,"d":0.1},{"x":-1.05,"y":-1.36,"d":0.06},{"x":-1.0,"y":-1.3,"d":0.05},{"x":-0.95,"y":-1.22,"d":0.1},{"x":-0.86,"y":-1.13,"d":0.1},{"x":-0.82,"y":-1.07,"d":0.06},{"x":-0.76,"y":-1.02,"d":0.12},{"x":-0.72,"y":-0.97,"d":0.14},{"x":-0.7,"y":-1.02,"d":0.15},{"x":-0.6,"y":-0.89,"d":0.12},{"x":-0.56,"y":-0.85,"d":0.12},{"x":-0.52,"y":-0.8,"d":0.13},{"x":-0.46,"y":-0.72,"d":0.13},{"x":-2.44,"y":-2.9,"d":0.08},{"x":-2.47,"y":-2.85,"d":0.05},{"x":-2.5,"y":-2.95,"d":0.05},{"x":-2.52,"y":-3.08,"d":0.04},{"x":-2.4,"y":-2.75,"d":0.08},{"x":-2.36,"y":-2.72,"d":0.12},{"x":-2.33,"y":-2.66,"d":0.1},{"x":-2.3,"y":-2.6,"d":0.1},{"x":-2.25,"y":-2.58,"d":0.15},{"x":-2.18,"y":-2.42,"d":0.12},{"x":-2.14,"y":-2.38,"d":0.14},{"x":-2.1,"y":-2.3,"d":0.13},{"x":-2.05,"y":-2.22,"d":0.14},{"x":-2.0,"y":-2.12,"d":0.14},{"x":-1.95,"y":-2.08,"d":0.16},{"x":-1.9,"y":-2.05,"d":0.15},{"x":-2.72,"y":-3.45,"d":0.1},{"x":-2.68,"y":-3.38,"d":0.05},{"x":-2.65,"y":-3.08,"d":0.03},
{"x":-2.91,"y":-3.73,"d":0.04},{"x":-2.99,"y":-3.79,"d":0.03},{"x":-2.95,"y":-3.8,"d":0.04},{"x":-2.92,"y":-3.79,"d":0.05},{"x":-2.92,"y":-3.82,"d":0.07},{"x":-2.875,"y":-3.85,"d":0.1},{"x":-2.85,"y":-3.825,"d":0.1},{"x":-2.83,"y":-3.91,"d":0.11},{"x":-2.81,"y":-3.96,"d":0.11},{"x":-2.79,"y":-3.88,"d":0.13},{"x":-2.74,"y":-3.9,"d":0.13},{"x":-2.78,"y":-3.72,"d":0.12},{"x":-2.73,"y":-3.64,"d":0.14},{"x":-2.75,"y":-3.99,"d":0.11},{"x":-2.82,"y":-4.04,"d":0.08},{"x":-2.78,"y":-4.03,"d":0.08},{"x":-2.67,"y":-3.99,"d":0.11},{"x":-2.58,"y":-4.0,"d":0.11},{"x":-2.96,"y":-4.02,"d":0.1},{"x":-2.9,"y":-4.0,"d":0.1},{"x":-2.92,"y":-4.03,"d":0.11},{"x":-2.95,"y":-4.06,"d":0.07},{"x":-3.01,"y":-4.1,"d":0.07},{"x":-2.99,"y":-4.11,"d":0.06},{"x":-3.0,"y":-4.13,"d":0.04},{"x":-2.76,"y":-4.09,"d":0.03},{"x":-2.55,"y":-4.12,"d":0.02},{"x":-2.46,"y":-4.18,"d":0.02},{"x":-2.44,"y":-4.21,"d":0.02},{"x":-2.98,"y":-3.81,"d":0.03},
{"x":-0.93,"y":-2.09,"d":0.03},{"x":-0.95,"y":-2.04,"d":0.05},{"x":-1.08,"y":-2.12,"d":0.09},{"x":-1.09,"y":-2.12,"d":0.09},{"x":-1.19,"y":-1.97,"d":0.08},{"x":-0.8,"y":-1.75,"d":0.1},{"x":-0.81,"y":-1.72,"d":0.1},{"x":-0.82,"y":-1.68,"d":0.1},{"x":-1.79,"y":-3.66,"d":0.03},{"x":-1.92,"y":-3.6,"d":0.06},{"x":-1.9,"y":-3.58,"d":0.05},{"x":-2.06,"y":-3.98,"d":0.02},{"x":-1.84,"y":-3.41,"d":0.1},{"x":-1.87,"y":-3.42,"d":0.1},{"x":-1.86,"y":-3.44,"d":0.08},{"x":-1.89,"y":-3.43,"d":0.07},{"x":-2.0,"y":-3.57,"d":0.12},{"x":-2.05,"y":-3.62,"d":0.13},{"x":-2.1,"y":-3.65,"d":0.14},{"x":-2.16,"y":-3.72,"d":0.14},{"x":-2.22,"y":-3.78,"d":0.13},{"x":-2.28,"y":-3.85,"d":0.11},{"x":-1.74,"y":-3.28,"d":0.1},{"x":-1.67,"y":-3.22,"d":0.07},{"x":-1.6,"y":-3.0,"d":0.1},{"x":-1.58,"y":-2.8,"d":0.1},{"x":-1.54,"y":-2.66,"d":0.1},{"x":-1.48,"y":-2.6,"d":0.08},{"x":-1.42,"y":-2.55,"d":0.12},{"x":-1.3,"y":-2.32,"d":0.08},{"x":-1.22,"y":-2.25,"d":0.1}
],
"dwarfs":[
{"x":-1.74,"y":-2.14},{"x":-1.76,"y":-2.23},{"x":-1.75,"y":-2.24},{"x":-1.78,"y":-2.29},{"x":-1.78,"y":-2.27},{"x":-2.13,"y":-2.18},{"x":-1.99,"y":-2.29},{"x":-1.42,"y":-2.18},{"x":-1.43,"y":-2.25},{"x":-1.32,"y":-2.37},{"x":-1.46,"y":-2.45},{"x":-1.36,"y":-2.47},{"x":-1.89,"y":-2.43},{"x":-1.85,"y":-2.43},{"x":-1.46,"y":-2.65},{"x":-1.46,"y":-2.78},{"x":-1.32,"y":-2.73},{"x":-2.32,"y":-2.63},{"x":-2.23,"y":-2.64},{"x":-2.49,"y":-2.71},{"x":-2.4,"y":-2.79},{"x":-2.51,"y":-2.97},{"x":-2.37,"y":-3.0},{"x":-1.99,"y":-2.58},{"x":-1.89,"y":-2.58},{"x":-1.865,"y":-2.57},{"x":-1.76,"y":-2.62},{"x":-1.68,"y":-2.59},{"x":-1.63,"y":-2.59},{"x":-1.62,"y":-2.555},{"x":-1.6,"y":-2.705},{"x":-1.665,"y":-2.74},{"x":-1.62,"y":-2.76},{"x":-1.75,"y":-2.8},{"x":-1.685,"y":-2.88},{"x":-1.72,"y":-2.97},{"x":-1.665,"y":-2.99},{"x":-1.71,"y":-3.07},{"x":-1.8,"y":-3.14},{"x":-1.75,"y":-3.2},{"x":-1.71,"y":-3.21},{"x":-1.725,"y":-3.29},{"x":-1.81,"y":-3.265},{"x":-1.92,"y":-3.31},{"x":-1.91,"y":-3.305},{"x":-1.95,"y":-3.4},{"x":-2.06,"y":-3.42},{"x":-2.03,"y":-3.42},{"x":-2.04,"y":-3.52},{"x":-2.16,"y":-3.65},{"x":-2.02,"y":-3.74},{"x":-2.25,"y":-3.69},{"x":-2.3,"y":-3.63},{"x":-2.37,"y":-3.65},{"x":-2.28,"y":-3.57},{"x":-2.485,"y":-3.67},{"x":-2.55,"y":-3.7},{"x":-2.6,"y":-3.68},{"x":-2.71,"y":-3.72},{"x":-2.63,"y":-3.59},{"x":-2.555,"y":-3.59},{"x":-2.59,"y":-3.46},{"x":-2.54,"y":-3.4},{"x":-2.5,"y":-3.37},{"x":-2.52,"y":-3.28},{"x":-2.4,"y":-3.28},{"x":-2.36,"y":-3.27},{"x":-2.21,"y":-3.5},{"x":-2.375,"y":-3.53},
{"x":-2.03,"y":-2.71},{"x":-1.96,"y":-2.71},{"x":-1.92,"y":-2.72},{"x":-1.86,"y":-2.68},{"x":-1.83,"y":-2.69},{"x":-1.83,"y":-2.73},{"x":-1.99,"y":-2.76},{"x":-1.95,"y":-2.77},{"x":-1.88,"y":-2.77},{"x":-1.86,"y":-2.77},{"x":-2.03,"y":-2.83},{"x":-1.98,"y":-2.83},{"x":-1.94,"y":-2.86},{"x":-1.9,"y":-2.87},{"x":-1.85,"y":-2.9},{"x":-1.81,"y":-2.9},{"x":-1.79,"y":-2.9},{"x":-1.88,"y":-2.92},{"x":-2.0,"y":-2.9},{"x":-2.05,"y":-2.91},{"x":-2.17,"y":-2.87},{"x":-2.21,"y":-2.9},{"x":-2.12,"y":-2.86},{"x":-2.19,"y":-2.99},{"x":-2.17,"y":-3.01},{"x":-2.12,"y":-2.95},{"x":-1.99,"y":-3.01},{"x":-2.03,"y":-3.06},{"x":-2.08,"y":-3.06},{"x":-2.12,"y":-3.1},{"x":-1.95,"y":-3.11},{"x":-2.0,"y":-3.13},{"x":-1.98,"y":-3.18},{"x":-1.97,"y":-3.2},{"x":-2.26,"y":-3.16},{"x":-2.18,"y":-3.18},{"x":-2.13,"y":-3.14},{"x":-2.08,"y":-3.16},{"x":-2.21,"y":-3.24},{"x":-2.16,"y":-3.21},{"x":-2.1,"y":-3.21},{"x":-2.05,"y":-3.25},{"x":-2.12,"y":-3.27},{"x":-2.09,"y":-3.31},{"x":-2.01,"y":-3.32},{"x":-2.05,"y":-3.35},{"x":-2.23,"y":-3.29},{"x":-2.27,"y":-3.24},{"x":-2.3,"y":-3.33},{"x":-2.25,"y":-3.33},{"x":-2.17,"y":-3.35},{"x":-2.13,"y":-3.38},{"x":-2.22,"y":-3.39},{"x":-2.19,"y":-3.42},{"x":-2.32,"y":-3.46},{"x":-2.375,"y":-3.4},{"x":-2.43,"y":-3.48},{"x":-2.48,"y":-3.53},{"x":-2.45,"y":-3.5},{"x":-2.4,"y":-3.53},{"x":-2.36,"y":-3.46},{"x":-2.14,"y":-3.28},{"x":-2.11,"y":-3.23},{"x":-2.15,"y":-3.25},{"x":-2.07,"y":-3.28},{"x":-2.19,"y":-3.27},{"x":-2.1,"y":-3.17},{"x":-2.15,"y":-3.16},{"x":-1.92,"y":-2.81},{"x":-1.89,"y":-2.83},{"x":-1.93,"y":-2.89},{"x":-1.91,"y":-2.94},{"x":-1.97,"y":-2.8},{"x":-2.04,"y":-3.12},{"x":-2.07,"y":-3.02},
{"x":-2.21,"y":-3.88},{"x":-2.24,"y":-3.8},{"x":-2.17,"y":-4.0},{"x":-2.2,"y":-3.97},{"x":-2.37,"y":-4.0},{"x":-2.3,"y":-3.93},{"x":-2.01,"y":-3.75},{"x":-2.16,"y":-3.81},{"x":-2.42,"y":-3.85},{"x":-2.5,"y":-3.98},{"x":-2.35,"y":-3.78},{"x":-2.27,"y":-3.89},{"x":-2.56,"y":-3.86},{"x":-2.67,"y":-3.84},{"x":-2.7,"y":-3.81},{"x":-2.55,"y":-3.75},{"x":-2.47,"y":-3.67},{"x":-2.6,"y":-3.49},{"x":-2.65,"y":-3.62},{"x":-2.51,"y":-3.27},{"x":-2.4,"y":-3.27},{"x":-2.47,"y":-2.71},{"x":-2.4,"y":-2.79},{"x":-2.5,"y":-2.98},{"x":-2.33,"y":-2.63}
],
"agc":[
{"x":-2.63,"y":-3.881,"xlo":-2.775,"xhi":-2.485,"ylo":-4.008,"yhi":-3.754},
{"x":-2.611,"y":-4.028,"xlo":-2.755,"xhi":-2.467,"ylo":-4.165,"yhi":-3.891},
{"x":-2.633,"y":-4.26,"xlo":-2.775,"xhi":-2.491,"ylo":-4.388,"yhi":-4.14},
{"x":-2.723,"y":-4.294,"xlo":-2.879,"xhi":-2.567,"ylo":-4.42,"yhi":-4.168},
{"x":-2.92,"y":-4.397,"xlo":-3.055,"xhi":-2.785,"ylo":-4.523,"yhi":-4.271},
{"x":-2.946,"y":-4.462,"xlo":-3.136,"xhi":-2.756,"ylo":-4.649,"yhi":-4.311},
{"x":-2.835,"y":-4.35,"xlo":-2.978,"xhi":-2.692,"ylo":-4.484,"yhi":-4.216},
{"x":-2.753,"y":-4.418,"xlo":-2.883,"xhi":-2.623,"ylo":-4.558,"yhi":-4.278},
{"x":-2.71,"y":-4.441,"xlo":-2.857,"xhi":-2.563,"ylo":-4.591,"yhi":-4.291},
{"x":-2.842,"y":-4.672,"xlo":-3.02,"xhi":-2.664,"ylo":-4.827,"yhi":-4.517},
{"x":-2.804,"y":-4.624,"xlo":-2.934,"xhi":-2.674,"ylo":-4.744,"yhi":-4.504},
{"x":-2.807,"y":-4.737,"xlo":-2.983,"xhi":-2.631,"ylo":-4.937,"yhi":-4.537}
],
"legStar":[{"x":0.445,"y":-5.19,"xlo":0.344,"xhi":0.541,"ylo":-5.297,"yhi":-5.078}],
"legLine":[{"x":0.238,"x2":0.648,"y":-4.253}],
"legBand":[{"x":0.243,"x2":0.648,"y":-4.488,"y2":-4.638}],
"legTri":[{"x":0.445,"y":-4.89}],
"errMain":[
{"x":-0.455,"x2":-0.197,"y":-2.497,"y2":-2.497,"g":"spirals"},{"x":-0.304,"x2":-0.304,"y":-2.406,"y2":-2.64,"g":"spirals"},
{"x":-0.455,"x2":-0.197,"y":-3.005,"y2":-3.005,"g":"dwarfs"},{"x":-0.304,"x2":-0.304,"y":-2.845,"y2":-3.27,"g":"dwarfs"}],
"errCap":[
{"x":-0.455,"x2":-0.455,"y":-2.45,"y2":-2.544,"g":"spirals"},{"x":-0.197,"x2":-0.197,"y":-2.45,"y2":-2.544,"g":"spirals"},{"x":-0.339,"x2":-0.269,"y":-2.406,"y2":-2.406,"g":"spirals"},{"x":-0.339,"x2":-0.269,"y":-2.64,"y2":-2.64,"g":"spirals"},
{"x":-0.455,"x2":-0.455,"y":-2.958,"y2":-3.052,"g":"dwarfs"},{"x":-0.197,"x2":-0.197,"y":-2.958,"y2":-3.052,"g":"dwarfs"},{"x":-0.339,"x2":-0.269,"y":-2.845,"y2":-2.845,"g":"dwarfs"},{"x":-0.339,"x2":-0.269,"y":-3.27,"y2":-3.27,"g":"dwarfs"}],
"txtX":[{"x":-1.959,"y":-6.018,"t":"log("},{"x":-1.19,"y":-6.018,"t":"[("},{"x":-1.02,"y":-6.018,"t":"M"},{"x":-0.715,"y":-6.018,"t":"pc"},{"x":-0.262,"y":-6.018,"t":")])"}],
"txtXi":[{"x":-1.605,"y":-6.018,"t":"ρ"}],
"txtXs":[{"x":-1.465,"y":-6.051,"t":"gas"},{"x":-0.845,"y":-6.051,"t":"⊙"},{"x":-0.478,"y":-5.936,"t":"−3"}],
"txtY":[{"x":-5.064,"y":-3.237,"t":"log("},{"x":-5.064,"y":-2.418,"t":"["},{"x":-5.064,"y":-2.323,"t":"M"},{"x":-5.064,"y":-2.006,"t":"yr"},{"x":-5.064,"y":-1.57,"t":"kpc"},{"x":-5.064,"y":-0.973,"t":"])"}],
"txtYi":[{"x":-5.064,"y":-2.85,"t":"ρ"}],
"txtYs":[{"x":-5.033,"y":-2.698,"t":"SFR"},{"x":-5.033,"y":-2.146,"t":"⊙"},{"x":-5.142,"y":-1.796,"t":"−1"},{"x":-5.142,"y":-1.212,"t":"−3"}],
"txtLeg":[{"x":1.31,"y":-4.324,"t":"=1.256"},{"x":0.815,"y":-4.635,"t":"1-"},{"x":1.17,"y":-4.635,"t":"= 0.337"},{"x":0.815,"y":-4.951,"t":"Dwarf galaxies"},{"x":0.815,"y":-5.262,"t":"AGC 242019"}],
"txtLegI":[{"x":0.815,"y":-4.324,"t":"α"},{"x":1.01,"y":-4.635,"t":"σ"}],
"txtLegS":[{"x":0.967,"y":-4.229,"t":"VKS"}],
"txtD":[{"x":-4.006,"y":0.5,"t":"(d)"}],
"txtBlue":[{"x":-0.1,"y":-2.505,"t":"typical errorbar for spirals"}],
"txtGray":[{"x":-0.1,"y":-3.005,"t":"typical errorbar for dwarfs"}]
},
"layer":[
{"data":{"name":"fit"},"mark":{"type":"area","color":"#fde8e5","clip":true},"encoding":{
"x":{"field":"x","type":"quantitative","scale":{"domain":[-4.5,2.5],"nice":false,"zero":false},"axis":{"values":[-4.25,-4,-3.75,-3.5,-3.25,-3,-2.75,-2.5,-2.25,-2,-1.75,-1.5,-1.25,-1,-0.75,-0.5,-0.25,0,0.25,0.5,0.75,1,1.25,1.5,1.75,2,2.25],"title":null,"grid":false,"domain":false,"labelOverlap":false,"tickSize":{"condition":{"test":"datum.value%1===0","value":-11},"value":-6.5},"tickWidth":2.2,"tickColor":"#000000","labelFont":"DejaVu Sans","labelFontSize":50,"labelColor":"#000000","labelPadding":22,"labelExpr":"datum.value%1===0?(datum.value<0?'-':'')+format(abs(datum.value),'.1f'):''"}},
"y":{"field":"lo","type":"quantitative","scale":{"domain":[-5.5,1.5],"nice":false,"zero":false},"axis":{"values":[-5.25,-5,-4.75,-4.5,-4.25,-4,-3.75,-3.5,-3.25,-3,-2.75,-2.5,-2.25,-2,-1.75,-1.5,-1.25,-1,-0.75,-0.5,-0.25,0,0.25,0.5,0.75,1,1.25],"title":null,"grid":false,"domain":false,"labelOverlap":false,"tickSize":{"condition":{"test":"datum.value%1===0","value":-11},"value":-6.5},"tickWidth":2.2,"tickColor":"#000000","labelFont":"DejaVu Sans","labelFontSize":50,"labelColor":"#000000","labelPadding":28,"labelExpr":"datum.value%1===0?(datum.value<0?'-':'')+format(abs(datum.value),'.1f'):''"}},
"y2":{"field":"hi"}}},
{"data":{"name":"spirals"},"mark":{"type":"point","filled":true,"size":125,"opacity":1,"fillOpacity":0.5,"strokeOpacity":0.5,"strokeWidth":2.5,"clip":true},"encoding":{
"x":{"field":"x","type":"quantitative"},"y":{"field":"y","type":"quantitative"},
"fill":{"field":"d","type":"quantitative","legend":null,"scale":{"domain":[0,0.1,0.3,0.43,0.58,0.85,1],"range":["#00007f","#0000ff","#00ffff","#7fff7f","#ffff00","#ff0000","#7f0000"]}},
"stroke":{"field":"d","type":"quantitative","legend":null,"scale":{"domain":[0,0.1,0.3,0.43,0.58,0.85,1],"range":["#00007f","#0000ff","#00ffff","#7fff7f","#ffff00","#ff0000","#7f0000"]}},
"order":{"field":"d","type":"quantitative"}}},
{"data":{"name":"fit"},"mark":{"type":"line","color":"#ff0000","strokeWidth":4.6,"clip":true},"encoding":{
"x":{"field":"x","type":"quantitative"},
"y":{"field":"y","type":"quantitative"}}},
{"data":{"name":"dwarfs"},"mark":{"type":"point","shape":"triangle-up","filled":false,"size":350,"color":"#696969","strokeWidth":3,"opacity":1},"encoding":{"x":{"field":"x","type":"quantitative"},"y":{"field":"y","type":"quantitative"}}},
{"data":{"name":"agc"},"mark":{"type":"rule","color":"#bf00bf","strokeWidth":4.5},"encoding":{"x":{"field":"xlo","type":"quantitative"},"x2":{"field":"xhi"},"y":{"field":"y","type":"quantitative"}}},
{"data":{"name":"agc"},"mark":{"type":"rule","color":"#bf00bf","strokeWidth":4.5},"encoding":{"x":{"field":"x","type":"quantitative"},"y":{"field":"ylo","type":"quantitative"},"y2":{"field":"yhi"}}},
{"data":{"name":"agc"},"mark":{"type":"point","shape":"M0,-1L0.29,-0.4L0.95,-0.31L0.48,0.15L0.59,0.81L0,0.5L-0.59,0.81L-0.48,0.15L-0.95,-0.31L-0.29,-0.4Z","filled":true,"size":800,"color":"#bf00bf","opacity":1},"encoding":{"x":{"field":"x","type":"quantitative"},"y":{"field":"y","type":"quantitative"}}},
{"data":{"name":"errMain"},"mark":{"type":"rule","strokeWidth":5.5},"encoding":{"x":{"field":"x","type":"quantitative"},"x2":{"field":"x2"},"y":{"field":"y","type":"quantitative"},"y2":{"field":"y2"},"color":{"field":"g","type":"nominal","legend":null,"scale":{"domain":["spirals","dwarfs"],"range":["#0000ff","#696969"]}}}},
{"data":{"name":"errCap"},"mark":{"type":"rule","strokeWidth":3.5},"encoding":{"x":{"field":"x","type":"quantitative"},"x2":{"field":"x2"},"y":{"field":"y","type":"quantitative"},"y2":{"field":"y2"},"color":{"field":"g","type":"nominal","legend":null}}},
{"data":{"name":"legBand"},"mark":{"type":"rect","color":"#fde8e5"},"encoding":{"x":{"field":"x","type":"quantitative"},"x2":{"field":"x2"},"y":{"field":"y","type":"quantitative"},"y2":{"field":"y2"}}},
{"data":{"name":"legLine"},"mark":{"type":"rule","color":"#ff0000","strokeWidth":4.6},"encoding":{"x":{"field":"x","type":"quantitative"},"x2":{"field":"x2"},"y":{"field":"y","type":"quantitative"}}},
{"data":{"name":"legTri"},"mark":{"type":"point","shape":"triangle-up","filled":false,"size":350,"color":"#696969","strokeWidth":3,"opacity":1},"encoding":{"x":{"field":"x","type":"quantitative"},"y":{"field":"y","type":"quantitative"}}},
{"data":{"name":"legStar"},"mark":{"type":"rule","color":"#bf00bf","strokeWidth":4.5},"encoding":{"x":{"field":"xlo","type":"quantitative"},"x2":{"field":"xhi"},"y":{"field":"y","type":"quantitative"}}},
{"data":{"name":"legStar"},"mark":{"type":"rule","color":"#bf00bf","strokeWidth":4.5},"encoding":{"x":{"field":"x","type":"quantitative"},"y":{"field":"ylo","type":"quantitative"},"y2":{"field":"yhi"}}},
{"data":{"name":"legStar"},"mark":{"type":"point","shape":"M0,-1L0.29,-0.4L0.95,-0.31L0.48,0.15L0.59,0.81L0,0.5L-0.59,0.81L-0.48,0.15L-0.95,-0.31L-0.29,-0.4Z","filled":true,"size":800,"color":"#bf00bf","opacity":1},"encoding":{"x":{"field":"x","type":"quantitative"},"y":{"field":"y","type":"quantitative"}}},
{"data":{"name":"txtX"},"mark":{"type":"text","font":"DejaVu Sans","fontSize":48,"align":"left","baseline":"alphabetic","color":"#000000"},"encoding":{"x":{"field":"x","type":"quantitative"},"y":{"field":"y","type":"quantitative"},"text":{"field":"t"}}},
{"data":{"name":"txtXi"},"mark":{"type":"text","font":"DejaVu Sans","fontStyle":"italic","fontSize":48,"align":"left","baseline":"alphabetic","color":"#000000"},"encoding":{"x":{"field":"x","type":"quantitative"},"y":{"field":"y","type":"quantitative"},"text":{"field":"t"}}},
{"data":{"name":"txtXs"},"mark":{"type":"text","font":"DejaVu Sans","fontSize":34,"align":"left","baseline":"alphabetic","color":"#000000"},"encoding":{"x":{"field":"x","type":"quantitative"},"y":{"field":"y","type":"quantitative"},"text":{"field":"t"}}},
{"data":{"name":"txtY"},"mark":{"type":"text","font":"DejaVu Sans","fontSize":48,"angle":270,"align":"left","baseline":"alphabetic","color":"#000000"},"encoding":{"x":{"field":"x","type":"quantitative"},"y":{"field":"y","type":"quantitative"},"text":{"field":"t"}}},
{"data":{"name":"txtYi"},"mark":{"type":"text","font":"DejaVu Sans","fontStyle":"italic","fontSize":48,"angle":270,"align":"left","baseline":"alphabetic","color":"#000000"},"encoding":{"x":{"field":"x","type":"quantitative"},"y":{"field":"y","type":"quantitative"},"text":{"field":"t"}}},
{"data":{"name":"txtYs"},"mark":{"type":"text","font":"DejaVu Sans","fontSize":34,"angle":270,"align":"left","baseline":"alphabetic","color":"#000000"},"encoding":{"x":{"field":"x","type":"quantitative"},"y":{"field":"y","type":"quantitative"},"text":{"field":"t"}}},
{"data":{"name":"txtLeg"},"mark":{"type":"text","font":"DejaVu Sans","fontSize":52,"align":"left","baseline":"alphabetic","color":"#000000"},"encoding":{"x":{"field":"x","type":"quantitative"},"y":{"field":"y","type":"quantitative"},"text":{"field":"t"}}},
{"data":{"name":"txtLegI"},"mark":{"type":"text","font":"DejaVu Sans","fontStyle":"italic","fontSize":52,"align":"left","baseline":"alphabetic","color":"#000000"},"encoding":{"x":{"field":"x","type":"quantitative"},"y":{"field":"y","type":"quantitative"},"text":{"field":"t"}}},
{"data":{"name":"txtLegS"},"mark":{"type":"text","font":"DejaVu Sans","fontSize":36,"align":"left","baseline":"alphabetic","color":"#000000"},"encoding":{"x":{"field":"x","type":"quantitative"},"y":{"field":"y","type":"quantitative"},"text":{"field":"t"}}},
{"data":{"name":"txtD"},"mark":{"type":"text","font":"DejaVu Sans","fontSize":105,"align":"left","baseline":"alphabetic","color":"#000000"},"encoding":{"x":{"field":"x","type":"quantitative"},"y":{"field":"y","type":"quantitative"},"text":{"field":"t"}}},
{"data":{"name":"txtBlue"},"mark":{"type":"text","font":"DejaVu Sans","fontSize":35,"align":"left","baseline":"alphabetic","color":"#0000ff"},"encoding":{"x":{"field":"x","type":"quantitative"},"y":{"field":"y","type":"quantitative"},"text":{"field":"t"}}},
{"data":{"name":"txtGray"},"mark":{"type":"text","font":"DejaVu Sans","fontSize":35,"align":"left","baseline":"alphabetic","color":"#696969"},"encoding":{"x":{"field":"x","type":"quantitative"},"y":{"field":"y","type":"quantitative"},"text":{"field":"t"}}}
]}
